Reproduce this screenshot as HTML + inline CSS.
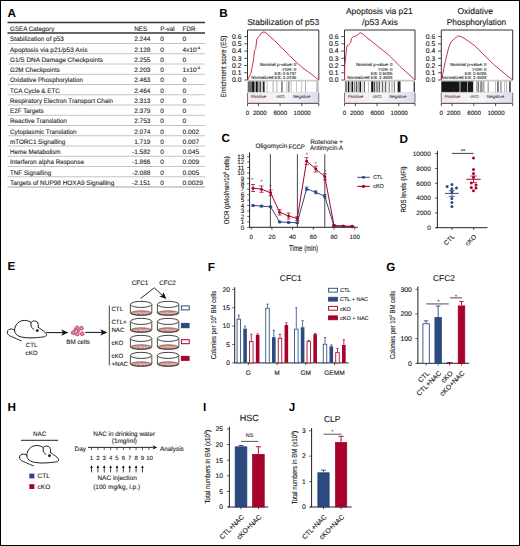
<!DOCTYPE html>
<html><head><meta charset="utf-8"><style>
html,body{margin:0;padding:0;background:#fff;}
body{width:520px;height:546px;overflow:hidden;}
svg{display:block;text-rendering:geometricPrecision;font-family:"Liberation Sans", sans-serif;}

</style></head><body>
<svg width="520" height="546" viewBox="0 0 520 546">
<rect x="0" y="0" width="520" height="546" fill="#fff"/>
<text x="7.6" y="17" font-size="11.7" font-weight="bold" fill="#000">A</text>
<line x1="7.5" y1="22.5" x2="205" y2="22.5" stroke="#333" stroke-width="1.6"/>
<line x1="7.5" y1="33.0" x2="205" y2="33.0" stroke="#333" stroke-width="1.4"/>
<text x="10" y="31.1" font-size="6.5" textLength="44.28" lengthAdjust="spacingAndGlyphs" fill="#222" stroke="#222" stroke-width="0.1">GSEA Category</text>
<text x="134.2" y="31.1" font-size="6.5" textLength="12.9" lengthAdjust="spacingAndGlyphs" fill="#222" stroke="#222" stroke-width="0.1">NES</text>
<text x="160.3" y="31.1" font-size="6.5" textLength="14.29" lengthAdjust="spacingAndGlyphs" fill="#222" stroke="#222" stroke-width="0.1">P-val</text>
<text x="182.6" y="31.1" font-size="6.5" textLength="12.89" lengthAdjust="spacingAndGlyphs" fill="#222" stroke="#222" stroke-width="0.1">FDR</text>
<text x="10" y="41.45" font-size="6.5" textLength="53.8" lengthAdjust="spacingAndGlyphs" fill="#222" stroke="#222" stroke-width="0.1">Stabilization of p53</text>
<text x="150.4" y="41.45" font-size="6.5" text-anchor="end" textLength="16.26" lengthAdjust="spacingAndGlyphs" fill="#222" stroke="#222" stroke-width="0.1">2.244</text>
<text x="160.3" y="41.45" font-size="6.5" fill="#222" stroke="#222" stroke-width="0.1">0</text>
<text x="182.6" y="41.45" font-size="6.5" textLength="3.69" lengthAdjust="spacingAndGlyphs" fill="#222" stroke="#222" stroke-width="0.1">0</text>
<line x1="7.5" y1="43.5" x2="205" y2="43.5" stroke="#b5b5b5" stroke-width="0.8"/>
<text x="10" y="51.7" font-size="6.5" textLength="77.5" lengthAdjust="spacingAndGlyphs" fill="#222" stroke="#222" stroke-width="0.1">Apoptosis via p21/p53 Axis</text>
<text x="150.4" y="51.7" font-size="6.5" text-anchor="end" textLength="16.26" lengthAdjust="spacingAndGlyphs" fill="#222" stroke="#222" stroke-width="0.1">2.128</text>
<text x="160.3" y="51.7" font-size="6.5" fill="#222" stroke="#222" stroke-width="0.1">0</text>
<text x="182.6" y="51.70" font-size="6.5" fill="#222" stroke="#222" stroke-width="0.1">4x10<tspan font-size="3.8" dy="-2.8">-4</tspan></text>
<line x1="7.5" y1="53.75" x2="205" y2="53.75" stroke="#b5b5b5" stroke-width="0.8"/>
<text x="10" y="61.95" font-size="6.5" textLength="93" lengthAdjust="spacingAndGlyphs" fill="#222" stroke="#222" stroke-width="0.1">G1/S DNA Damage Checkpoints</text>
<text x="150.4" y="61.95" font-size="6.5" text-anchor="end" textLength="16.26" lengthAdjust="spacingAndGlyphs" fill="#222" stroke="#222" stroke-width="0.1">2.255</text>
<text x="160.3" y="61.95" font-size="6.5" fill="#222" stroke="#222" stroke-width="0.1">0</text>
<text x="182.6" y="61.95" font-size="6.5" textLength="3.69" lengthAdjust="spacingAndGlyphs" fill="#222" stroke="#222" stroke-width="0.1">0</text>
<line x1="7.5" y1="64.0" x2="205" y2="64.0" stroke="#b5b5b5" stroke-width="0.8"/>
<text x="10" y="72.2" font-size="6.5" textLength="49.85" lengthAdjust="spacingAndGlyphs" fill="#222" stroke="#222" stroke-width="0.1">G2M Checkpoints</text>
<text x="150.4" y="72.2" font-size="6.5" text-anchor="end" textLength="16.26" lengthAdjust="spacingAndGlyphs" fill="#222" stroke="#222" stroke-width="0.1">2.203</text>
<text x="160.3" y="72.2" font-size="6.5" fill="#222" stroke="#222" stroke-width="0.1">0</text>
<text x="182.6" y="72.20" font-size="6.5" fill="#222" stroke="#222" stroke-width="0.1">1x10<tspan font-size="3.8" dy="-2.8">-4</tspan></text>
<line x1="7.5" y1="74.25" x2="205" y2="74.25" stroke="#b5b5b5" stroke-width="0.8"/>
<text x="10" y="82.45" font-size="6.5" textLength="72.87" lengthAdjust="spacingAndGlyphs" fill="#222" stroke="#222" stroke-width="0.1">Oxidative Phosphorylation</text>
<text x="150.4" y="82.45" font-size="6.5" text-anchor="end" textLength="16.26" lengthAdjust="spacingAndGlyphs" fill="#222" stroke="#222" stroke-width="0.1">2.463</text>
<text x="160.3" y="82.45" font-size="6.5" fill="#222" stroke="#222" stroke-width="0.1">0</text>
<text x="182.6" y="82.45" font-size="6.5" textLength="3.69" lengthAdjust="spacingAndGlyphs" fill="#222" stroke="#222" stroke-width="0.1">0</text>
<line x1="7.5" y1="84.5" x2="205" y2="84.5" stroke="#b5b5b5" stroke-width="0.8"/>
<text x="10" y="92.7" font-size="6.5" textLength="49.84" lengthAdjust="spacingAndGlyphs" fill="#222" stroke="#222" stroke-width="0.1">TCA Cycle &amp; ETC</text>
<text x="150.4" y="92.7" font-size="6.5" text-anchor="end" textLength="16.26" lengthAdjust="spacingAndGlyphs" fill="#222" stroke="#222" stroke-width="0.1">2.464</text>
<text x="160.3" y="92.7" font-size="6.5" fill="#222" stroke="#222" stroke-width="0.1">0</text>
<text x="182.6" y="92.7" font-size="6.5" textLength="3.69" lengthAdjust="spacingAndGlyphs" fill="#222" stroke="#222" stroke-width="0.1">0</text>
<line x1="7.5" y1="94.75" x2="205" y2="94.75" stroke="#b5b5b5" stroke-width="0.8"/>
<text x="10" y="102.95" font-size="6.5" textLength="103" lengthAdjust="spacingAndGlyphs" fill="#222" stroke="#222" stroke-width="0.1">Respiratory Electron Transport Chain</text>
<text x="150.4" y="102.95" font-size="6.5" text-anchor="end" textLength="16.26" lengthAdjust="spacingAndGlyphs" fill="#222" stroke="#222" stroke-width="0.1">2.313</text>
<text x="160.3" y="102.95" font-size="6.5" fill="#222" stroke="#222" stroke-width="0.1">0</text>
<text x="182.6" y="102.95" font-size="6.5" textLength="3.69" lengthAdjust="spacingAndGlyphs" fill="#222" stroke="#222" stroke-width="0.1">0</text>
<line x1="7.5" y1="105.0" x2="205" y2="105.0" stroke="#b5b5b5" stroke-width="0.8"/>
<text x="10" y="113.2" font-size="6.5" textLength="33.7" lengthAdjust="spacingAndGlyphs" fill="#222" stroke="#222" stroke-width="0.1">E2F Targets</text>
<text x="150.4" y="113.2" font-size="6.5" text-anchor="end" textLength="16.26" lengthAdjust="spacingAndGlyphs" fill="#222" stroke="#222" stroke-width="0.1">2.379</text>
<text x="160.3" y="113.2" font-size="6.5" fill="#222" stroke="#222" stroke-width="0.1">0</text>
<text x="182.6" y="113.2" font-size="6.5" textLength="3.69" lengthAdjust="spacingAndGlyphs" fill="#222" stroke="#222" stroke-width="0.1">0</text>
<line x1="7.5" y1="115.25" x2="205" y2="115.25" stroke="#b5b5b5" stroke-width="0.8"/>
<text x="10" y="123.45" font-size="6.5" textLength="56.83" lengthAdjust="spacingAndGlyphs" fill="#222" stroke="#222" stroke-width="0.1">Reactive Translation</text>
<text x="150.4" y="123.45" font-size="6.5" text-anchor="end" textLength="16.26" lengthAdjust="spacingAndGlyphs" fill="#222" stroke="#222" stroke-width="0.1">2.753</text>
<text x="160.3" y="123.45" font-size="6.5" fill="#222" stroke="#222" stroke-width="0.1">0</text>
<text x="182.6" y="123.45" font-size="6.5" textLength="3.69" lengthAdjust="spacingAndGlyphs" fill="#222" stroke="#222" stroke-width="0.1">0</text>
<line x1="7.5" y1="125.5" x2="205" y2="125.5" stroke="#b5b5b5" stroke-width="0.8"/>
<text x="10" y="133.7" font-size="6.5" textLength="66.58" lengthAdjust="spacingAndGlyphs" fill="#222" stroke="#222" stroke-width="0.1">Cytoplasmic Translation</text>
<text x="150.4" y="133.7" font-size="6.5" text-anchor="end" textLength="16.26" lengthAdjust="spacingAndGlyphs" fill="#222" stroke="#222" stroke-width="0.1">2.074</text>
<text x="160.3" y="133.7" font-size="6.5" fill="#222" stroke="#222" stroke-width="0.1">0</text>
<text x="182.6" y="133.7" font-size="6.5" textLength="16.59" lengthAdjust="spacingAndGlyphs" fill="#222" stroke="#222" stroke-width="0.1">0.002</text>
<line x1="7.5" y1="135.75" x2="205" y2="135.75" stroke="#b5b5b5" stroke-width="0.8"/>
<text x="10" y="143.95" font-size="6.5" textLength="55.31" lengthAdjust="spacingAndGlyphs" fill="#222" stroke="#222" stroke-width="0.1">mTORC1 Signalling</text>
<text x="150.4" y="143.95" font-size="6.5" text-anchor="end" textLength="16.26" lengthAdjust="spacingAndGlyphs" fill="#222" stroke="#222" stroke-width="0.1">1.719</text>
<text x="160.3" y="143.95" font-size="6.5" fill="#222" stroke="#222" stroke-width="0.1">0</text>
<text x="182.6" y="143.95" font-size="6.5" textLength="16.59" lengthAdjust="spacingAndGlyphs" fill="#222" stroke="#222" stroke-width="0.1">0.007</text>
<line x1="7.5" y1="146.0" x2="205" y2="146.0" stroke="#b5b5b5" stroke-width="0.8"/>
<text x="10" y="154.2" font-size="6.5" textLength="50.54" lengthAdjust="spacingAndGlyphs" fill="#222" stroke="#222" stroke-width="0.1">Heme Metabolism</text>
<text x="150.4" y="154.2" font-size="6.5" text-anchor="end" textLength="18.43" lengthAdjust="spacingAndGlyphs" fill="#222" stroke="#222" stroke-width="0.1">-1.582</text>
<text x="160.3" y="154.2" font-size="6.5" fill="#222" stroke="#222" stroke-width="0.1">0</text>
<text x="182.6" y="154.2" font-size="6.5" textLength="16.59" lengthAdjust="spacingAndGlyphs" fill="#222" stroke="#222" stroke-width="0.1">0.045</text>
<line x1="7.5" y1="156.25" x2="205" y2="156.25" stroke="#b5b5b5" stroke-width="0.8"/>
<text x="10" y="164.45" font-size="6.5" textLength="73.92" lengthAdjust="spacingAndGlyphs" fill="#222" stroke="#222" stroke-width="0.1">Interferon alpha Response</text>
<text x="150.4" y="164.45" font-size="6.5" text-anchor="end" textLength="18.43" lengthAdjust="spacingAndGlyphs" fill="#222" stroke="#222" stroke-width="0.1">-1.866</text>
<text x="160.3" y="164.45" font-size="6.5" fill="#222" stroke="#222" stroke-width="0.1">0</text>
<text x="182.6" y="164.45" font-size="6.5" textLength="16.59" lengthAdjust="spacingAndGlyphs" fill="#222" stroke="#222" stroke-width="0.1">0.009</text>
<line x1="7.5" y1="166.5" x2="205" y2="166.5" stroke="#b5b5b5" stroke-width="0.8"/>
<text x="10" y="174.7" font-size="6.5" textLength="41.13" lengthAdjust="spacingAndGlyphs" fill="#222" stroke="#222" stroke-width="0.1">TNF Signalling</text>
<text x="150.4" y="174.7" font-size="6.5" text-anchor="end" textLength="18.43" lengthAdjust="spacingAndGlyphs" fill="#222" stroke="#222" stroke-width="0.1">-2.088</text>
<text x="160.3" y="174.7" font-size="6.5" fill="#222" stroke="#222" stroke-width="0.1">0</text>
<text x="182.6" y="174.7" font-size="6.5" textLength="16.59" lengthAdjust="spacingAndGlyphs" fill="#222" stroke="#222" stroke-width="0.1">0.005</text>
<line x1="7.5" y1="176.75" x2="205" y2="176.75" stroke="#b5b5b5" stroke-width="0.8"/>
<text x="10" y="184.95" font-size="6.5" textLength="104.3" lengthAdjust="spacingAndGlyphs" fill="#222" stroke="#222" stroke-width="0.1">Targets of NUP98 HOXA9 Signalling</text>
<text x="150.4" y="184.95" font-size="6.5" text-anchor="end" textLength="18.43" lengthAdjust="spacingAndGlyphs" fill="#222" stroke="#222" stroke-width="0.1">-2.151</text>
<text x="160.3" y="184.95" font-size="6.5" fill="#222" stroke="#222" stroke-width="0.1">0</text>
<text x="182.6" y="184.95" font-size="6.5" textLength="20.28" lengthAdjust="spacingAndGlyphs" fill="#222" stroke="#222" stroke-width="0.1">0.0029</text>
<line x1="7.5" y1="187.0" x2="205" y2="187.0" stroke="#999" stroke-width="0.9"/>
<text x="219.3" y="16.8" font-size="11.7" font-weight="bold" fill="#000">B</text>
<line x1="244.3" y1="80.0" x2="247.5" y2="80.0" stroke="#222" stroke-width="0.8"/>
<text x="241.5" y="82.4" font-size="6.8" text-anchor="end" fill="#111" stroke="#111" stroke-width="0.1">0.0</text>
<line x1="244.3" y1="72.77" x2="247.5" y2="72.77" stroke="#222" stroke-width="0.8"/>
<text x="241.5" y="75.17" font-size="6.8" text-anchor="end" fill="#111" stroke="#111" stroke-width="0.1">0.1</text>
<line x1="244.3" y1="65.53" x2="247.5" y2="65.53" stroke="#222" stroke-width="0.8"/>
<text x="241.5" y="67.93" font-size="6.8" text-anchor="end" fill="#111" stroke="#111" stroke-width="0.1">0.2</text>
<line x1="244.3" y1="58.3" x2="247.5" y2="58.3" stroke="#222" stroke-width="0.8"/>
<text x="241.5" y="60.7" font-size="6.8" text-anchor="end" fill="#111" stroke="#111" stroke-width="0.1">0.3</text>
<line x1="244.3" y1="51.07" x2="247.5" y2="51.07" stroke="#222" stroke-width="0.8"/>
<text x="241.5" y="53.47" font-size="6.8" text-anchor="end" fill="#111" stroke="#111" stroke-width="0.1">0.4</text>
<line x1="244.3" y1="43.84" x2="247.5" y2="43.84" stroke="#222" stroke-width="0.8"/>
<text x="241.5" y="46.23" font-size="6.8" text-anchor="end" fill="#111" stroke="#111" stroke-width="0.1">0.5</text>
<line x1="244.3" y1="36.6" x2="247.5" y2="36.6" stroke="#222" stroke-width="0.8"/>
<text x="241.5" y="39.0" font-size="6.8" text-anchor="end" fill="#111" stroke="#111" stroke-width="0.1">0.6</text>
<rect x="247.5" y="81.2" width="71.30000000000001" height="11.099999999999994" fill="#fff" stroke="none" stroke-width="1"/>
<rect x="247.7" y="81.2" width="4.4" height="11.099999999999994" fill="#6a6a6a" stroke="none" stroke-width="1"/>
<rect x="252.1" y="81.2" width="2.4" height="11.099999999999994" fill="#111" stroke="none" stroke-width="1"/>
<rect x="254.5" y="81.2" width="1.3" height="11.099999999999994" fill="#888" stroke="none" stroke-width="1"/>
<rect x="256" y="81.2" width="1.8" height="11.099999999999994" fill="#111" stroke="none" stroke-width="1"/>
<rect x="258.2" y="81.2" width="1" height="11.099999999999994" fill="#999" stroke="none" stroke-width="1"/>
<rect x="259.5" y="81.2" width="1.4" height="11.099999999999994" fill="#333" stroke="none" stroke-width="1"/>
<rect x="261.5" y="81.2" width="1" height="11.099999999999994" fill="#aaa" stroke="none" stroke-width="1"/>
<rect x="262.9" y="81.2" width="1.7" height="11.099999999999994" fill="#222" stroke="none" stroke-width="1"/>
<rect x="266.6" y="81.2" width="1" height="11.099999999999994" fill="#bbb" stroke="none" stroke-width="1"/>
<rect x="272.6" y="81.2" width="1" height="11.099999999999994" fill="#aaa" stroke="none" stroke-width="1"/>
<rect x="276.5" y="81.2" width="0.8" height="11.099999999999994" fill="#999" stroke="none" stroke-width="1"/>
<rect x="281.5" y="81.2" width="0.9" height="11.099999999999994" fill="#222" stroke="none" stroke-width="1"/>
<rect x="286.5" y="81.2" width="0.8" height="11.099999999999994" fill="#aaa" stroke="none" stroke-width="1"/>
<rect x="288.5" y="81.2" width="0.8" height="11.099999999999994" fill="#333" stroke="none" stroke-width="1"/>
<rect x="290.8" y="81.2" width="0.6" height="11.099999999999994" fill="#999" stroke="none" stroke-width="1"/>
<rect x="296" y="81.2" width="0.8" height="11.099999999999994" fill="#bbb" stroke="none" stroke-width="1"/>
<rect x="301.4" y="81.2" width="0.7" height="11.099999999999994" fill="#aaa" stroke="none" stroke-width="1"/>
<rect x="305" y="81.2" width="0.8" height="11.099999999999994" fill="#999" stroke="none" stroke-width="1"/>
<rect x="316.3" y="81.2" width="2.4" height="11.099999999999994" fill="#bbb" stroke="none" stroke-width="1"/>
<line x1="247.5" y1="81.2" x2="318.8" y2="81.2" stroke="#bbb" stroke-width="0.5"/>
<line x1="247.5" y1="92.3" x2="318.8" y2="92.3" stroke="#bbb" stroke-width="0.5"/>
<defs><linearGradient id="g247" x1="0" x2="1" y1="0" y2="0"><stop offset="0" stop-color="#f6e4e8"/><stop offset="0.5" stop-color="#f8f7fa"/><stop offset="1" stop-color="#dcdcf0"/></linearGradient></defs>
<rect x="247.5" y="92.8" width="71.30000000000001" height="9.799999999999997" fill="url(#g247)" stroke="none" stroke-width="1"/>
<line x1="247.5" y1="92.8" x2="247.5" y2="102.6" stroke="#555" stroke-width="0.8"/>
<line x1="318.8" y1="92.8" x2="318.8" y2="102.6" stroke="#555" stroke-width="0.8"/>
<text x="250.9" y="98.0" font-size="4.4" fill="#444" stroke="#444" stroke-width="0.1">Positive</text>
<text x="280.51" y="98.0" font-size="4.4" text-anchor="middle" fill="#444" stroke="#444" stroke-width="0.1">cKO</text>
<text x="310.24" y="98.0" font-size="4.4" text-anchor="end" fill="#444" stroke="#444" stroke-width="0.1">Negative</text>
<path d="M247.5,80.0 L247.5,30 L318.8,30 L318.8,80.0" fill="none" stroke="#333" stroke-width="1"/>
<line x1="247.5" y1="80.3" x2="318.8" y2="80.3" stroke="#999" stroke-width="0.6"/>
<line x1="247.5" y1="103.3" x2="318.8" y2="103.3" stroke="#222" stroke-width="0.9"/>
<line x1="247.5" y1="103.3" x2="247.5" y2="106.1" stroke="#222" stroke-width="0.8"/>
<line x1="258.36" y1="103.3" x2="258.36" y2="106.1" stroke="#222" stroke-width="0.8"/>
<line x1="280.08" y1="103.3" x2="280.08" y2="106.1" stroke="#222" stroke-width="0.8"/>
<line x1="301.8" y1="103.3" x2="301.8" y2="106.1" stroke="#222" stroke-width="0.8"/>
<line x1="318.8" y1="103.3" x2="318.8" y2="106.1" stroke="#222" stroke-width="0.8"/>
<text x="247.5" y="115.1" font-size="6.2" text-anchor="middle" fill="#111" stroke="#111" stroke-width="0.1">0</text>
<text x="259.8" y="115.1" font-size="6.2" text-anchor="middle" fill="#111" stroke="#111" stroke-width="0.1">2000</text>
<text x="280.3" y="115.1" font-size="6.2" text-anchor="middle" fill="#111" stroke="#111" stroke-width="0.1">6000</text>
<text x="302.2" y="115.1" font-size="6.2" text-anchor="middle" fill="#111" stroke="#111" stroke-width="0.1">10000</text>
<polyline points="247.60,80.00 250.90,73.20 253.10,62.10 254.60,50.20 255.70,48.70 256.90,39.10 258.30,37.20 259.80,35.40 261.00,33.20 262.80,32.10 265.00,32.10 274.60,40.60 289.40,55.40 296.90,62.80 302.80,68.00 310.20,73.20 318.60,80.00" fill="none" stroke="#c8335a" stroke-width="1.0" stroke-linejoin="round"/>
<text x="296.3" y="66.3" font-size="4.4" text-anchor="end" fill="#222" stroke="#222" stroke-width="0.1">Nominal p-value: 0</text>
<text x="296.3" y="70.65" font-size="4.4" text-anchor="end" fill="#222" stroke="#222" stroke-width="0.1">FDR: 0</text>
<text x="296.3" y="75.0" font-size="4.4" text-anchor="end" fill="#222" stroke="#222" stroke-width="0.1">ES: 0.6737</text>
<text x="296.3" y="79.35" font-size="4.4" text-anchor="end" fill="#222" stroke="#222" stroke-width="0.1">Normalized ES: 2.2446</text>
<text x="283.2" y="24.6" font-size="8.6" text-anchor="middle" textLength="72" lengthAdjust="spacingAndGlyphs" fill="#111" stroke="#111" stroke-width="0.1">Stabilization of p53</text>
<line x1="341.3" y1="80.0" x2="344.5" y2="80.0" stroke="#222" stroke-width="0.8"/>
<text x="338.5" y="82.4" font-size="6.8" text-anchor="end" fill="#111" stroke="#111" stroke-width="0.1">0.0</text>
<line x1="341.3" y1="72.77" x2="344.5" y2="72.77" stroke="#222" stroke-width="0.8"/>
<text x="338.5" y="75.17" font-size="6.8" text-anchor="end" fill="#111" stroke="#111" stroke-width="0.1">0.1</text>
<line x1="341.3" y1="65.53" x2="344.5" y2="65.53" stroke="#222" stroke-width="0.8"/>
<text x="338.5" y="67.93" font-size="6.8" text-anchor="end" fill="#111" stroke="#111" stroke-width="0.1">0.2</text>
<line x1="341.3" y1="58.3" x2="344.5" y2="58.3" stroke="#222" stroke-width="0.8"/>
<text x="338.5" y="60.7" font-size="6.8" text-anchor="end" fill="#111" stroke="#111" stroke-width="0.1">0.3</text>
<line x1="341.3" y1="51.07" x2="344.5" y2="51.07" stroke="#222" stroke-width="0.8"/>
<text x="338.5" y="53.47" font-size="6.8" text-anchor="end" fill="#111" stroke="#111" stroke-width="0.1">0.4</text>
<line x1="341.3" y1="43.84" x2="344.5" y2="43.84" stroke="#222" stroke-width="0.8"/>
<text x="338.5" y="46.23" font-size="6.8" text-anchor="end" fill="#111" stroke="#111" stroke-width="0.1">0.5</text>
<line x1="341.3" y1="36.6" x2="344.5" y2="36.6" stroke="#222" stroke-width="0.8"/>
<text x="338.5" y="39.0" font-size="6.8" text-anchor="end" fill="#111" stroke="#111" stroke-width="0.1">0.6</text>
<rect x="344.5" y="81.2" width="70.5" height="11.099999999999994" fill="#fff" stroke="none" stroke-width="1"/>
<rect x="344.9" y="81.2" width="2.2" height="11.099999999999994" fill="#888" stroke="none" stroke-width="1"/>
<rect x="347.8" y="81.2" width="1.5" height="11.099999999999994" fill="#111" stroke="none" stroke-width="1"/>
<rect x="349.6" y="81.2" width="1" height="11.099999999999994" fill="#999" stroke="none" stroke-width="1"/>
<rect x="351.5" y="81.2" width="1.5" height="11.099999999999994" fill="#111" stroke="none" stroke-width="1"/>
<rect x="353.7" y="81.2" width="1.5" height="11.099999999999994" fill="#888" stroke="none" stroke-width="1"/>
<rect x="355.9" y="81.2" width="0.8" height="11.099999999999994" fill="#111" stroke="none" stroke-width="1"/>
<rect x="357.4" y="81.2" width="1.4" height="11.099999999999994" fill="#999" stroke="none" stroke-width="1"/>
<rect x="359.5" y="81.2" width="1.5" height="11.099999999999994" fill="#111" stroke="none" stroke-width="1"/>
<rect x="361.7" y="81.2" width="0.8" height="11.099999999999994" fill="#aaa" stroke="none" stroke-width="1"/>
<rect x="363.9" y="81.2" width="0.8" height="11.099999999999994" fill="#222" stroke="none" stroke-width="1"/>
<rect x="368.3" y="81.2" width="0.7" height="11.099999999999994" fill="#aaa" stroke="none" stroke-width="1"/>
<rect x="371.2" y="81.2" width="2.2" height="11.099999999999994" fill="#111" stroke="none" stroke-width="1"/>
<rect x="374.2" y="81.2" width="0.8" height="11.099999999999994" fill="#222" stroke="none" stroke-width="1"/>
<rect x="375.6" y="81.2" width="3" height="11.099999999999994" fill="#999" stroke="none" stroke-width="1"/>
<rect x="379.3" y="81.2" width="0.7" height="11.099999999999994" fill="#222" stroke="none" stroke-width="1"/>
<rect x="380.8" y="81.2" width="0.6" height="11.099999999999994" fill="#aaa" stroke="none" stroke-width="1"/>
<rect x="382.2" y="81.2" width="0.7" height="11.099999999999994" fill="#222" stroke="none" stroke-width="1"/>
<rect x="383.7" y="81.2" width="0.6" height="11.099999999999994" fill="#999" stroke="none" stroke-width="1"/>
<rect x="385.1" y="81.2" width="0.7" height="11.099999999999994" fill="#222" stroke="none" stroke-width="1"/>
<rect x="386.6" y="81.2" width="0.6" height="11.099999999999994" fill="#aaa" stroke="none" stroke-width="1"/>
<rect x="388.8" y="81.2" width="0.7" height="11.099999999999994" fill="#333" stroke="none" stroke-width="1"/>
<rect x="391" y="81.2" width="0.6" height="11.099999999999994" fill="#aaa" stroke="none" stroke-width="1"/>
<rect x="392.5" y="81.2" width="0.6" height="11.099999999999994" fill="#aaa" stroke="none" stroke-width="1"/>
<rect x="393.9" y="81.2" width="0.7" height="11.099999999999994" fill="#333" stroke="none" stroke-width="1"/>
<rect x="397.6" y="81.2" width="2.9" height="11.099999999999994" fill="#222" stroke="none" stroke-width="1"/>
<rect x="413.6" y="81.2" width="1.3" height="11.099999999999994" fill="#333" stroke="none" stroke-width="1"/>
<line x1="344.5" y1="81.2" x2="415" y2="81.2" stroke="#bbb" stroke-width="0.5"/>
<line x1="344.5" y1="92.3" x2="415" y2="92.3" stroke="#bbb" stroke-width="0.5"/>
<defs><linearGradient id="g344" x1="0" x2="1" y1="0" y2="0"><stop offset="0" stop-color="#f6e4e8"/><stop offset="0.5" stop-color="#f8f7fa"/><stop offset="1" stop-color="#dcdcf0"/></linearGradient></defs>
<rect x="344.5" y="92.8" width="70.5" height="9.799999999999997" fill="url(#g344)" stroke="none" stroke-width="1"/>
<line x1="344.5" y1="92.8" x2="344.5" y2="102.6" stroke="#555" stroke-width="0.8"/>
<line x1="415" y1="92.8" x2="415" y2="102.6" stroke="#555" stroke-width="0.8"/>
<text x="347.9" y="98.0" font-size="4.4" fill="#444" stroke="#444" stroke-width="0.1">Positive</text>
<text x="377.14" y="98.0" font-size="4.4" text-anchor="middle" fill="#444" stroke="#444" stroke-width="0.1">cKO</text>
<text x="406.54" y="98.0" font-size="4.4" text-anchor="end" fill="#444" stroke="#444" stroke-width="0.1">Negative</text>
<path d="M344.5,80.0 L344.5,30 L415,30 L415,80.0" fill="none" stroke="#333" stroke-width="1"/>
<line x1="344.5" y1="80.3" x2="415" y2="80.3" stroke="#999" stroke-width="0.6"/>
<line x1="344.5" y1="103.3" x2="415" y2="103.3" stroke="#222" stroke-width="0.9"/>
<line x1="344.5" y1="103.3" x2="344.5" y2="106.1" stroke="#222" stroke-width="0.8"/>
<line x1="355.36" y1="103.3" x2="355.36" y2="106.1" stroke="#222" stroke-width="0.8"/>
<line x1="377.08" y1="103.3" x2="377.08" y2="106.1" stroke="#222" stroke-width="0.8"/>
<line x1="398.8" y1="103.3" x2="398.8" y2="106.1" stroke="#222" stroke-width="0.8"/>
<line x1="415" y1="103.3" x2="415" y2="106.1" stroke="#222" stroke-width="0.8"/>
<text x="344.5" y="115.1" font-size="6.2" text-anchor="middle" fill="#111" stroke="#111" stroke-width="0.1">0</text>
<text x="356.8" y="115.1" font-size="6.2" text-anchor="middle" fill="#111" stroke="#111" stroke-width="0.1">2000</text>
<text x="377.3" y="115.1" font-size="6.2" text-anchor="middle" fill="#111" stroke="#111" stroke-width="0.1">6000</text>
<text x="399.2" y="115.1" font-size="6.2" text-anchor="middle" fill="#111" stroke="#111" stroke-width="0.1">10000</text>
<polyline points="344.60,80.00 344.80,65.80 346.20,52.00 347.00,45.70 348.60,44.90 350.50,43.00 351.60,38.20 353.40,36.60 355.50,36.10 357.70,35.00 359.80,32.60 362.00,33.50 377.20,45.80 388.60,54.90 400.00,66.40 407.00,72.80 415.00,80.00" fill="none" stroke="#c8335a" stroke-width="1.0" stroke-linejoin="round"/>
<text x="392.5" y="66.3" font-size="4.4" text-anchor="end" fill="#222" stroke="#222" stroke-width="0.1">Nominal p-value: 0</text>
<text x="392.5" y="70.65" font-size="4.4" text-anchor="end" fill="#222" stroke="#222" stroke-width="0.1">FDR: 0</text>
<text x="392.5" y="75.0" font-size="4.4" text-anchor="end" fill="#222" stroke="#222" stroke-width="0.1">ES: 0.6026</text>
<text x="392.5" y="79.35" font-size="4.4" text-anchor="end" fill="#222" stroke="#222" stroke-width="0.1">Normalized ES: 2.4633</text>
<text x="379.3" y="14.2" font-size="8.5" text-anchor="middle" textLength="66.8" lengthAdjust="spacingAndGlyphs" fill="#111" stroke="#111" stroke-width="0.1">Apoptosis via p21</text>
<text x="380" y="25.4" font-size="8.5" text-anchor="middle" textLength="36" lengthAdjust="spacingAndGlyphs" fill="#111" stroke="#111" stroke-width="0.1">/p53 Axis</text>
<line x1="438.1" y1="80.0" x2="441.3" y2="80.0" stroke="#222" stroke-width="0.8"/>
<text x="435.3" y="82.4" font-size="6.8" text-anchor="end" fill="#111" stroke="#111" stroke-width="0.1">0.0</text>
<line x1="438.1" y1="72.77" x2="441.3" y2="72.77" stroke="#222" stroke-width="0.8"/>
<text x="435.3" y="75.17" font-size="6.8" text-anchor="end" fill="#111" stroke="#111" stroke-width="0.1">0.1</text>
<line x1="438.1" y1="65.53" x2="441.3" y2="65.53" stroke="#222" stroke-width="0.8"/>
<text x="435.3" y="67.93" font-size="6.8" text-anchor="end" fill="#111" stroke="#111" stroke-width="0.1">0.2</text>
<line x1="438.1" y1="58.3" x2="441.3" y2="58.3" stroke="#222" stroke-width="0.8"/>
<text x="435.3" y="60.7" font-size="6.8" text-anchor="end" fill="#111" stroke="#111" stroke-width="0.1">0.3</text>
<line x1="438.1" y1="51.07" x2="441.3" y2="51.07" stroke="#222" stroke-width="0.8"/>
<text x="435.3" y="53.47" font-size="6.8" text-anchor="end" fill="#111" stroke="#111" stroke-width="0.1">0.4</text>
<line x1="438.1" y1="43.84" x2="441.3" y2="43.84" stroke="#222" stroke-width="0.8"/>
<text x="435.3" y="46.23" font-size="6.8" text-anchor="end" fill="#111" stroke="#111" stroke-width="0.1">0.5</text>
<line x1="438.1" y1="36.6" x2="441.3" y2="36.6" stroke="#222" stroke-width="0.8"/>
<text x="435.3" y="39.0" font-size="6.8" text-anchor="end" fill="#111" stroke="#111" stroke-width="0.1">0.6</text>
<rect x="441.3" y="81.2" width="71.40000000000003" height="11.099999999999994" fill="#fff" stroke="none" stroke-width="1"/>
<rect x="441.3" y="81.2" width="17.7" height="11.099999999999994" fill="#151515" stroke="none" stroke-width="1"/>
<rect x="459" y="81.2" width="1.5" height="11.099999999999994" fill="#777" stroke="none" stroke-width="1"/>
<rect x="460.5" y="81.2" width="6.7" height="11.099999999999994" fill="#181818" stroke="none" stroke-width="1"/>
<rect x="467.2" y="81.2" width="0.8" height="11.099999999999994" fill="#888" stroke="none" stroke-width="1"/>
<rect x="468" y="81.2" width="5.2" height="11.099999999999994" fill="#1a1a1a" stroke="none" stroke-width="1"/>
<rect x="476.2" y="81.2" width="1.5" height="11.099999999999994" fill="#999" stroke="none" stroke-width="1"/>
<rect x="478.3" y="81.2" width="0.8" height="11.099999999999994" fill="#444" stroke="none" stroke-width="1"/>
<rect x="480" y="81.2" width="1.5" height="11.099999999999994" fill="#999" stroke="none" stroke-width="1"/>
<rect x="481.5" y="81.2" width="0.8" height="11.099999999999994" fill="#555" stroke="none" stroke-width="1"/>
<rect x="482.5" y="81.2" width="2" height="11.099999999999994" fill="#aaa" stroke="none" stroke-width="1"/>
<rect x="487.5" y="81.2" width="1.5" height="11.099999999999994" fill="#aaa" stroke="none" stroke-width="1"/>
<rect x="495" y="81.2" width="0.7" height="11.099999999999994" fill="#aaa" stroke="none" stroke-width="1"/>
<rect x="497.2" y="81.2" width="1.5" height="11.099999999999994" fill="#555" stroke="none" stroke-width="1"/>
<rect x="500.2" y="81.2" width="1.5" height="11.099999999999994" fill="#999" stroke="none" stroke-width="1"/>
<rect x="504" y="81.2" width="0.7" height="11.099999999999994" fill="#aaa" stroke="none" stroke-width="1"/>
<rect x="506.2" y="81.2" width="0.7" height="11.099999999999994" fill="#999" stroke="none" stroke-width="1"/>
<rect x="509.2" y="81.2" width="1.5" height="11.099999999999994" fill="#333" stroke="none" stroke-width="1"/>
<line x1="441.3" y1="81.2" x2="512.7" y2="81.2" stroke="#bbb" stroke-width="0.5"/>
<line x1="441.3" y1="92.3" x2="512.7" y2="92.3" stroke="#bbb" stroke-width="0.5"/>
<defs><linearGradient id="g441" x1="0" x2="1" y1="0" y2="0"><stop offset="0" stop-color="#f6e4e8"/><stop offset="0.5" stop-color="#f8f7fa"/><stop offset="1" stop-color="#dcdcf0"/></linearGradient></defs>
<rect x="441.3" y="92.8" width="71.40000000000003" height="9.799999999999997" fill="url(#g441)" stroke="none" stroke-width="1"/>
<line x1="441.3" y1="92.8" x2="441.3" y2="102.6" stroke="#555" stroke-width="0.8"/>
<line x1="512.7" y1="92.8" x2="512.7" y2="102.6" stroke="#555" stroke-width="0.8"/>
<text x="444.7" y="98.0" font-size="4.4" fill="#444" stroke="#444" stroke-width="0.1">Positive</text>
<text x="474.36" y="98.0" font-size="4.4" text-anchor="middle" fill="#444" stroke="#444" stroke-width="0.1">cKO</text>
<text x="504.13" y="98.0" font-size="4.4" text-anchor="end" fill="#444" stroke="#444" stroke-width="0.1">Negative</text>
<path d="M441.3,80.0 L441.3,30 L512.7,30 L512.7,80.0" fill="none" stroke="#333" stroke-width="1"/>
<line x1="441.3" y1="80.3" x2="512.7" y2="80.3" stroke="#999" stroke-width="0.6"/>
<line x1="441.3" y1="103.3" x2="512.7" y2="103.3" stroke="#222" stroke-width="0.9"/>
<line x1="441.3" y1="103.3" x2="441.3" y2="106.1" stroke="#222" stroke-width="0.8"/>
<line x1="452.16" y1="103.3" x2="452.16" y2="106.1" stroke="#222" stroke-width="0.8"/>
<line x1="473.88" y1="103.3" x2="473.88" y2="106.1" stroke="#222" stroke-width="0.8"/>
<line x1="495.6" y1="103.3" x2="495.6" y2="106.1" stroke="#222" stroke-width="0.8"/>
<line x1="512.7" y1="103.3" x2="512.7" y2="106.1" stroke="#222" stroke-width="0.8"/>
<text x="441.3" y="115.1" font-size="6.2" text-anchor="middle" fill="#111" stroke="#111" stroke-width="0.1">0</text>
<text x="453.6" y="115.1" font-size="6.2" text-anchor="middle" fill="#111" stroke="#111" stroke-width="0.1">2000</text>
<text x="474.1" y="115.1" font-size="6.2" text-anchor="middle" fill="#111" stroke="#111" stroke-width="0.1">6000</text>
<text x="496.0" y="115.1" font-size="6.2" text-anchor="middle" fill="#111" stroke="#111" stroke-width="0.1">10000</text>
<polyline points="441.40,80.00 442.90,73.20 445.20,61.80 448.60,48.00 450.90,41.90 454.30,38.90 457.80,35.90 461.20,36.60 465.80,39.40 474.90,45.80 484.00,54.90 493.20,64.00 500.10,69.80 506.90,75.50 512.70,80.00" fill="none" stroke="#c8335a" stroke-width="1.0" stroke-linejoin="round"/>
<text x="486.5" y="66.3" font-size="4.4" text-anchor="end" fill="#222" stroke="#222" stroke-width="0.1">Nominal p-value: 0</text>
<text x="486.5" y="70.65" font-size="4.4" text-anchor="end" fill="#222" stroke="#222" stroke-width="0.1">FDR: 0</text>
<text x="486.5" y="75.0" font-size="4.4" text-anchor="end" fill="#222" stroke="#222" stroke-width="0.1">ES: 0.6026</text>
<text x="486.5" y="79.35" font-size="4.4" text-anchor="end" fill="#222" stroke="#222" stroke-width="0.1">Normalized ES: 2.4633</text>
<text x="475.2" y="14.2" font-size="8.5" text-anchor="middle" fill="#111" stroke="#111" stroke-width="0.1">Oxidative</text>
<text x="476.5" y="25.4" font-size="8.5" text-anchor="middle" textLength="59.3" lengthAdjust="spacingAndGlyphs" fill="#111" stroke="#111" stroke-width="0.1">Phosphorylation</text>
<text x="226.5" y="66.4" font-size="7.6" text-anchor="middle" transform="rotate(-90 226.5 66.4)" textLength="61.5" lengthAdjust="spacingAndGlyphs" fill="#111" stroke="#111" stroke-width="0.1">Enrichment score (ES)</text>
<text x="221.5" y="142.4" font-size="11.7" font-weight="bold" fill="#000">C</text>
<line x1="249.6" y1="152.5" x2="249.6" y2="227.3" stroke="#222" stroke-width="1"/>
<line x1="249.1" y1="227.3" x2="357.8" y2="227.3" stroke="#222" stroke-width="1"/>
<line x1="247.1" y1="227.3" x2="249.6" y2="227.3" stroke="#222" stroke-width="0.7"/>
<text x="244.2" y="229.5" font-size="6.3" text-anchor="end" fill="#111" stroke="#111" stroke-width="0.1">0</text>
<line x1="247.1" y1="221.86" x2="249.6" y2="221.86" stroke="#222" stroke-width="0.7"/>
<text x="244.2" y="224.06" font-size="6.3" text-anchor="end" fill="#111" stroke="#111" stroke-width="0.1">1</text>
<line x1="247.1" y1="216.42" x2="249.6" y2="216.42" stroke="#222" stroke-width="0.7"/>
<text x="244.2" y="218.62" font-size="6.3" text-anchor="end" fill="#111" stroke="#111" stroke-width="0.1">2</text>
<line x1="247.1" y1="210.98" x2="249.6" y2="210.98" stroke="#222" stroke-width="0.7"/>
<text x="244.2" y="213.18" font-size="6.3" text-anchor="end" fill="#111" stroke="#111" stroke-width="0.1">3</text>
<line x1="247.1" y1="205.54" x2="249.6" y2="205.54" stroke="#222" stroke-width="0.7"/>
<text x="244.2" y="207.74" font-size="6.3" text-anchor="end" fill="#111" stroke="#111" stroke-width="0.1">4</text>
<line x1="247.1" y1="200.1" x2="249.6" y2="200.1" stroke="#222" stroke-width="0.7"/>
<text x="244.2" y="202.3" font-size="6.3" text-anchor="end" fill="#111" stroke="#111" stroke-width="0.1">5</text>
<line x1="247.1" y1="194.66" x2="249.6" y2="194.66" stroke="#222" stroke-width="0.7"/>
<text x="244.2" y="196.86" font-size="6.3" text-anchor="end" fill="#111" stroke="#111" stroke-width="0.1">6</text>
<line x1="247.1" y1="189.22" x2="249.6" y2="189.22" stroke="#222" stroke-width="0.7"/>
<text x="244.2" y="191.42" font-size="6.3" text-anchor="end" fill="#111" stroke="#111" stroke-width="0.1">7</text>
<line x1="247.1" y1="183.78" x2="249.6" y2="183.78" stroke="#222" stroke-width="0.7"/>
<text x="244.2" y="185.98" font-size="6.3" text-anchor="end" fill="#111" stroke="#111" stroke-width="0.1">8</text>
<line x1="247.1" y1="178.34" x2="249.6" y2="178.34" stroke="#222" stroke-width="0.7"/>
<text x="244.2" y="180.54" font-size="6.3" text-anchor="end" fill="#111" stroke="#111" stroke-width="0.1">9</text>
<line x1="247.1" y1="172.9" x2="249.6" y2="172.9" stroke="#222" stroke-width="0.7"/>
<text x="244.2" y="175.1" font-size="6.3" text-anchor="end" fill="#111" stroke="#111" stroke-width="0.1">10</text>
<line x1="247.1" y1="167.46" x2="249.6" y2="167.46" stroke="#222" stroke-width="0.7"/>
<text x="244.2" y="169.66" font-size="6.3" text-anchor="end" fill="#111" stroke="#111" stroke-width="0.1">11</text>
<line x1="247.1" y1="162.02" x2="249.6" y2="162.02" stroke="#222" stroke-width="0.7"/>
<text x="244.2" y="164.22" font-size="6.3" text-anchor="end" fill="#111" stroke="#111" stroke-width="0.1">12</text>
<line x1="247.1" y1="156.58" x2="249.6" y2="156.58" stroke="#222" stroke-width="0.7"/>
<text x="244.2" y="158.78" font-size="6.3" text-anchor="end" fill="#111" stroke="#111" stroke-width="0.1">13</text>
<line x1="251.2" y1="227.3" x2="251.2" y2="229.70000000000002" stroke="#222" stroke-width="0.8"/>
<text x="251.2" y="239.0" font-size="6.2" text-anchor="middle" fill="#222" stroke="#222" stroke-width="0.1">0</text>
<line x1="271.9" y1="227.3" x2="271.9" y2="229.70000000000002" stroke="#222" stroke-width="0.8"/>
<text x="271.9" y="239.0" font-size="6.2" text-anchor="middle" fill="#222" stroke="#222" stroke-width="0.1">20</text>
<line x1="292.6" y1="227.3" x2="292.6" y2="229.70000000000002" stroke="#222" stroke-width="0.8"/>
<text x="292.6" y="239.0" font-size="6.2" text-anchor="middle" fill="#222" stroke="#222" stroke-width="0.1">40</text>
<line x1="313.3" y1="227.3" x2="313.3" y2="229.70000000000002" stroke="#222" stroke-width="0.8"/>
<text x="313.3" y="239.0" font-size="6.2" text-anchor="middle" fill="#222" stroke="#222" stroke-width="0.1">60</text>
<line x1="334.0" y1="227.3" x2="334.0" y2="229.70000000000002" stroke="#222" stroke-width="0.8"/>
<text x="334.0" y="239.0" font-size="6.2" text-anchor="middle" fill="#222" stroke="#222" stroke-width="0.1">80</text>
<line x1="354.7" y1="227.3" x2="354.7" y2="229.70000000000002" stroke="#222" stroke-width="0.8"/>
<text x="354.7" y="239.0" font-size="6.2" text-anchor="middle" fill="#222" stroke="#222" stroke-width="0.1">100</text>
<text x="303.6" y="250.9" font-size="8.3" text-anchor="middle" textLength="29" lengthAdjust="spacingAndGlyphs" fill="#111" stroke="#111" stroke-width="0.1">Time (min)</text>
<line x1="270.4" y1="154.2" x2="270.4" y2="227.3" stroke="#333" stroke-width="0.9"/>
<line x1="297.4" y1="154.2" x2="297.4" y2="227.3" stroke="#333" stroke-width="0.9"/>
<line x1="324.8" y1="154.2" x2="324.8" y2="227.3" stroke="#333" stroke-width="0.9"/>
<text x="271.4" y="148.2" font-size="6.5" text-anchor="middle" textLength="32" lengthAdjust="spacingAndGlyphs" fill="#222" stroke="#222" stroke-width="0.1">Oligomycin</text>
<text x="296.7" y="148.6" font-size="6.6" text-anchor="middle" textLength="16.3" lengthAdjust="spacingAndGlyphs" fill="#222" stroke="#222" stroke-width="0.1">FCCP</text>
<text x="326.6" y="143.5" font-size="6.5" text-anchor="middle" textLength="32.8" lengthAdjust="spacingAndGlyphs" fill="#222" stroke="#222" stroke-width="0.1">Rotenone +</text>
<text x="326.5" y="150.0" font-size="6.5" text-anchor="middle" textLength="33.2" lengthAdjust="spacingAndGlyphs" fill="#222" stroke="#222" stroke-width="0.1">Antimycin A</text>
<text transform="translate(228.6 190.2) rotate(-90)" font-size="7.0" text-anchor="middle" fill="#111" stroke="#111" stroke-width="0.1" textLength="68" lengthAdjust="spacingAndGlyphs">OCR (pMol/min/10<tspan font-size="4.2" dy="-2.8">6</tspan><tspan dy="2.8"> cells)</tspan></text>
<polyline points="253.00,205.50 261.50,206.10 270.60,206.80 279.60,221.90 288.60,222.40 297.30,222.70 306.60,188.80 315.80,192.30 324.80,196.30 334.00,226.20 343.10,226.50 352.20,226.70" fill="none" stroke="#2c4a80" stroke-width="1.0" stroke-linejoin="round"/>
<polyline points="253.00,188.20 261.50,189.20 270.60,192.80 279.60,212.20 288.60,216.10 297.30,218.40 306.60,161.10 315.80,169.00 324.80,176.70 334.00,225.40 343.10,226.00 352.20,226.30" fill="none" stroke="#a6022c" stroke-width="1.0" stroke-linejoin="round"/>
<line x1="253" y1="204.8" x2="253" y2="206.2" stroke="#2c4a80" stroke-width="0.7"/>
<line x1="251.2" y1="204.8" x2="254.8" y2="204.8" stroke="#2c4a80" stroke-width="0.7"/>
<line x1="251.2" y1="206.2" x2="254.8" y2="206.2" stroke="#2c4a80" stroke-width="0.7"/>
<line x1="261.5" y1="205.3" x2="261.5" y2="206.9" stroke="#2c4a80" stroke-width="0.7"/>
<line x1="259.7" y1="205.3" x2="263.3" y2="205.3" stroke="#2c4a80" stroke-width="0.7"/>
<line x1="259.7" y1="206.9" x2="263.3" y2="206.9" stroke="#2c4a80" stroke-width="0.7"/>
<line x1="270.6" y1="206" x2="270.6" y2="207.6" stroke="#2c4a80" stroke-width="0.7"/>
<line x1="268.8" y1="206" x2="272.40000000000003" y2="206" stroke="#2c4a80" stroke-width="0.7"/>
<line x1="268.8" y1="207.6" x2="272.40000000000003" y2="207.6" stroke="#2c4a80" stroke-width="0.7"/>
<line x1="279.6" y1="221.3" x2="279.6" y2="222.5" stroke="#2c4a80" stroke-width="0.7"/>
<line x1="277.8" y1="221.3" x2="281.40000000000003" y2="221.3" stroke="#2c4a80" stroke-width="0.7"/>
<line x1="277.8" y1="222.5" x2="281.40000000000003" y2="222.5" stroke="#2c4a80" stroke-width="0.7"/>
<line x1="288.6" y1="221.8" x2="288.6" y2="223" stroke="#2c4a80" stroke-width="0.7"/>
<line x1="286.8" y1="221.8" x2="290.40000000000003" y2="221.8" stroke="#2c4a80" stroke-width="0.7"/>
<line x1="286.8" y1="223" x2="290.40000000000003" y2="223" stroke="#2c4a80" stroke-width="0.7"/>
<line x1="297.3" y1="222.1" x2="297.3" y2="223.3" stroke="#2c4a80" stroke-width="0.7"/>
<line x1="295.5" y1="222.1" x2="299.1" y2="222.1" stroke="#2c4a80" stroke-width="0.7"/>
<line x1="295.5" y1="223.3" x2="299.1" y2="223.3" stroke="#2c4a80" stroke-width="0.7"/>
<line x1="306.6" y1="187" x2="306.6" y2="190.6" stroke="#2c4a80" stroke-width="0.7"/>
<line x1="304.8" y1="187" x2="308.40000000000003" y2="187" stroke="#2c4a80" stroke-width="0.7"/>
<line x1="304.8" y1="190.6" x2="308.40000000000003" y2="190.6" stroke="#2c4a80" stroke-width="0.7"/>
<line x1="315.8" y1="190.8" x2="315.8" y2="193.8" stroke="#2c4a80" stroke-width="0.7"/>
<line x1="314.0" y1="190.8" x2="317.6" y2="190.8" stroke="#2c4a80" stroke-width="0.7"/>
<line x1="314.0" y1="193.8" x2="317.6" y2="193.8" stroke="#2c4a80" stroke-width="0.7"/>
<line x1="324.8" y1="194.5" x2="324.8" y2="198" stroke="#2c4a80" stroke-width="0.7"/>
<line x1="323.0" y1="194.5" x2="326.6" y2="194.5" stroke="#2c4a80" stroke-width="0.7"/>
<line x1="323.0" y1="198" x2="326.6" y2="198" stroke="#2c4a80" stroke-width="0.7"/>
<line x1="334" y1="225.8" x2="334" y2="226.6" stroke="#2c4a80" stroke-width="0.7"/>
<line x1="332.2" y1="225.8" x2="335.8" y2="225.8" stroke="#2c4a80" stroke-width="0.7"/>
<line x1="332.2" y1="226.6" x2="335.8" y2="226.6" stroke="#2c4a80" stroke-width="0.7"/>
<line x1="343.1" y1="226.1" x2="343.1" y2="226.9" stroke="#2c4a80" stroke-width="0.7"/>
<line x1="341.3" y1="226.1" x2="344.90000000000003" y2="226.1" stroke="#2c4a80" stroke-width="0.7"/>
<line x1="341.3" y1="226.9" x2="344.90000000000003" y2="226.9" stroke="#2c4a80" stroke-width="0.7"/>
<line x1="352.2" y1="226.3" x2="352.2" y2="227.1" stroke="#2c4a80" stroke-width="0.7"/>
<line x1="350.4" y1="226.3" x2="354.0" y2="226.3" stroke="#2c4a80" stroke-width="0.7"/>
<line x1="350.4" y1="227.1" x2="354.0" y2="227.1" stroke="#2c4a80" stroke-width="0.7"/>
<line x1="253" y1="184.5" x2="253" y2="191.5" stroke="#a6022c" stroke-width="0.7"/>
<line x1="251.0" y1="184.5" x2="255.0" y2="184.5" stroke="#a6022c" stroke-width="0.75"/>
<line x1="251.0" y1="191.5" x2="255.0" y2="191.5" stroke="#a6022c" stroke-width="0.75"/>
<line x1="261.5" y1="186" x2="261.5" y2="192.3" stroke="#a6022c" stroke-width="0.7"/>
<line x1="259.5" y1="186" x2="263.5" y2="186" stroke="#a6022c" stroke-width="0.75"/>
<line x1="259.5" y1="192.3" x2="263.5" y2="192.3" stroke="#a6022c" stroke-width="0.75"/>
<line x1="270.6" y1="190" x2="270.6" y2="195.6" stroke="#a6022c" stroke-width="0.7"/>
<line x1="268.6" y1="190" x2="272.6" y2="190" stroke="#a6022c" stroke-width="0.75"/>
<line x1="268.6" y1="195.6" x2="272.6" y2="195.6" stroke="#a6022c" stroke-width="0.75"/>
<line x1="279.6" y1="209.6" x2="279.6" y2="215" stroke="#a6022c" stroke-width="0.7"/>
<line x1="277.6" y1="209.6" x2="281.6" y2="209.6" stroke="#a6022c" stroke-width="0.75"/>
<line x1="277.6" y1="215" x2="281.6" y2="215" stroke="#a6022c" stroke-width="0.75"/>
<line x1="288.6" y1="213" x2="288.6" y2="219" stroke="#a6022c" stroke-width="0.7"/>
<line x1="286.6" y1="213" x2="290.6" y2="213" stroke="#a6022c" stroke-width="0.75"/>
<line x1="286.6" y1="219" x2="290.6" y2="219" stroke="#a6022c" stroke-width="0.75"/>
<line x1="297.3" y1="216.5" x2="297.3" y2="220.5" stroke="#a6022c" stroke-width="0.7"/>
<line x1="295.3" y1="216.5" x2="299.3" y2="216.5" stroke="#a6022c" stroke-width="0.75"/>
<line x1="295.3" y1="220.5" x2="299.3" y2="220.5" stroke="#a6022c" stroke-width="0.75"/>
<line x1="306.6" y1="157.6" x2="306.6" y2="164.6" stroke="#a6022c" stroke-width="0.7"/>
<line x1="304.6" y1="157.6" x2="308.6" y2="157.6" stroke="#a6022c" stroke-width="0.75"/>
<line x1="304.6" y1="164.6" x2="308.6" y2="164.6" stroke="#a6022c" stroke-width="0.75"/>
<line x1="315.8" y1="166.2" x2="315.8" y2="172" stroke="#a6022c" stroke-width="0.7"/>
<line x1="313.8" y1="166.2" x2="317.8" y2="166.2" stroke="#a6022c" stroke-width="0.75"/>
<line x1="313.8" y1="172" x2="317.8" y2="172" stroke="#a6022c" stroke-width="0.75"/>
<line x1="324.8" y1="173.7" x2="324.8" y2="179.8" stroke="#a6022c" stroke-width="0.7"/>
<line x1="322.8" y1="173.7" x2="326.8" y2="173.7" stroke="#a6022c" stroke-width="0.75"/>
<line x1="322.8" y1="179.8" x2="326.8" y2="179.8" stroke="#a6022c" stroke-width="0.75"/>
<line x1="334" y1="224.8" x2="334" y2="226" stroke="#a6022c" stroke-width="0.7"/>
<line x1="332.0" y1="224.8" x2="336.0" y2="224.8" stroke="#a6022c" stroke-width="0.75"/>
<line x1="332.0" y1="226" x2="336.0" y2="226" stroke="#a6022c" stroke-width="0.75"/>
<line x1="343.1" y1="225.5" x2="343.1" y2="226.5" stroke="#a6022c" stroke-width="0.7"/>
<line x1="341.1" y1="225.5" x2="345.1" y2="225.5" stroke="#a6022c" stroke-width="0.75"/>
<line x1="341.1" y1="226.5" x2="345.1" y2="226.5" stroke="#a6022c" stroke-width="0.75"/>
<line x1="352.2" y1="225.8" x2="352.2" y2="226.8" stroke="#a6022c" stroke-width="0.7"/>
<line x1="350.2" y1="225.8" x2="354.2" y2="225.8" stroke="#a6022c" stroke-width="0.75"/>
<line x1="350.2" y1="226.8" x2="354.2" y2="226.8" stroke="#a6022c" stroke-width="0.75"/>
<circle cx="253" cy="205.5" r="1.55" fill="#2c4a80" stroke="none" stroke-width="1"/>
<circle cx="261.5" cy="206.1" r="1.55" fill="#2c4a80" stroke="none" stroke-width="1"/>
<circle cx="270.6" cy="206.8" r="1.55" fill="#2c4a80" stroke="none" stroke-width="1"/>
<circle cx="279.6" cy="221.9" r="1.55" fill="#2c4a80" stroke="none" stroke-width="1"/>
<circle cx="288.6" cy="222.4" r="1.55" fill="#2c4a80" stroke="none" stroke-width="1"/>
<circle cx="297.3" cy="222.7" r="1.55" fill="#2c4a80" stroke="none" stroke-width="1"/>
<circle cx="306.6" cy="188.8" r="1.55" fill="#2c4a80" stroke="none" stroke-width="1"/>
<circle cx="315.8" cy="192.3" r="1.55" fill="#2c4a80" stroke="none" stroke-width="1"/>
<circle cx="324.8" cy="196.3" r="1.55" fill="#2c4a80" stroke="none" stroke-width="1"/>
<circle cx="334" cy="226.2" r="1.55" fill="#2c4a80" stroke="none" stroke-width="1"/>
<circle cx="343.1" cy="226.5" r="1.55" fill="#2c4a80" stroke="none" stroke-width="1"/>
<circle cx="352.2" cy="226.7" r="1.55" fill="#2c4a80" stroke="none" stroke-width="1"/>
<circle cx="253" cy="188.2" r="1.5" fill="#a6022c" stroke="none" stroke-width="1"/>
<circle cx="261.5" cy="189.2" r="1.5" fill="#a6022c" stroke="none" stroke-width="1"/>
<circle cx="270.6" cy="192.8" r="1.5" fill="#a6022c" stroke="none" stroke-width="1"/>
<circle cx="279.6" cy="212.2" r="1.5" fill="#a6022c" stroke="none" stroke-width="1"/>
<circle cx="288.6" cy="216.1" r="1.5" fill="#a6022c" stroke="none" stroke-width="1"/>
<circle cx="297.3" cy="218.4" r="1.5" fill="#a6022c" stroke="none" stroke-width="1"/>
<circle cx="306.6" cy="161.1" r="1.5" fill="#a6022c" stroke="none" stroke-width="1"/>
<circle cx="315.8" cy="169" r="1.5" fill="#a6022c" stroke="none" stroke-width="1"/>
<circle cx="324.8" cy="176.7" r="1.5" fill="#a6022c" stroke="none" stroke-width="1"/>
<circle cx="334" cy="225.4" r="1.5" fill="#a6022c" stroke="none" stroke-width="1"/>
<circle cx="343.1" cy="226.0" r="1.5" fill="#a6022c" stroke="none" stroke-width="1"/>
<circle cx="352.2" cy="226.3" r="1.5" fill="#a6022c" stroke="none" stroke-width="1"/>
<text x="252.2" y="180.8" font-size="4.5" text-anchor="middle" fill="#333" stroke="#333" stroke-width="0.1">*</text>
<text x="261.5" y="183.0" font-size="4.5" text-anchor="middle" fill="#333" stroke="#333" stroke-width="0.1">*</text>
<text x="270.5" y="187.8" font-size="4.5" text-anchor="middle" fill="#333" stroke="#333" stroke-width="0.1">*</text>
<text x="306.9" y="156.4" font-size="4.5" text-anchor="middle" fill="#333" stroke="#333" stroke-width="0.1">*</text>
<text x="315.6" y="164.7" font-size="4.5" text-anchor="middle" fill="#333" stroke="#333" stroke-width="0.1">*</text>
<text x="324.8" y="172.6" font-size="4.5" text-anchor="middle" fill="#333" stroke="#333" stroke-width="0.1">*</text>
<line x1="357.4" y1="177.3" x2="369.8" y2="177.3" stroke="#2c4a80" stroke-width="1.0"/>
<circle cx="363.5" cy="177.3" r="1.55" fill="#2c4a80" stroke="none" stroke-width="1"/>
<line x1="357.4" y1="186.4" x2="369.8" y2="186.4" stroke="#a6022c" stroke-width="1.1"/>
<circle cx="363.5" cy="186.4" r="1.55" fill="#a6022c" stroke="none" stroke-width="1"/>
<text x="373.2" y="179.2" font-size="5.7" textLength="9.5" lengthAdjust="spacingAndGlyphs" fill="#222" stroke="#222" stroke-width="0.1">CTL</text>
<text x="373.2" y="188.4" font-size="5.7" textLength="10.6" lengthAdjust="spacingAndGlyphs" fill="#222" stroke="#222" stroke-width="0.1">cKO</text>
<text x="399.6" y="143.2" font-size="11.7" font-weight="bold" fill="#000">D</text>
<line x1="437.4" y1="150.8" x2="437.4" y2="227.7" stroke="#222" stroke-width="1"/>
<line x1="435.9" y1="227.7" x2="487.5" y2="227.7" stroke="#222" stroke-width="1"/>
<line x1="434.9" y1="227.7" x2="437.4" y2="227.7" stroke="#222" stroke-width="0.7"/>
<text x="430.79999999999995" y="230.0" font-size="6.5" text-anchor="end" fill="#111" stroke="#111" stroke-width="0.1">0</text>
<line x1="434.9" y1="212.88" x2="437.4" y2="212.88" stroke="#222" stroke-width="0.7"/>
<text x="430.79999999999995" y="215.18" font-size="6.5" text-anchor="end" fill="#111" stroke="#111" stroke-width="0.1">2000</text>
<line x1="434.9" y1="198.06" x2="437.4" y2="198.06" stroke="#222" stroke-width="0.7"/>
<text x="430.79999999999995" y="200.36" font-size="6.5" text-anchor="end" fill="#111" stroke="#111" stroke-width="0.1">4000</text>
<line x1="434.9" y1="183.24" x2="437.4" y2="183.24" stroke="#222" stroke-width="0.7"/>
<text x="430.79999999999995" y="185.54" font-size="6.5" text-anchor="end" fill="#111" stroke="#111" stroke-width="0.1">6000</text>
<line x1="434.9" y1="168.42" x2="437.4" y2="168.42" stroke="#222" stroke-width="0.7"/>
<text x="430.79999999999995" y="170.72" font-size="6.5" text-anchor="end" fill="#111" stroke="#111" stroke-width="0.1">8000</text>
<line x1="434.9" y1="153.6" x2="437.4" y2="153.6" stroke="#222" stroke-width="0.7"/>
<text x="430.79999999999995" y="155.9" font-size="6.5" text-anchor="end" fill="#111" stroke="#111" stroke-width="0.1">10000</text>
<line x1="451.9" y1="227.7" x2="451.9" y2="229.89999999999998" stroke="#222" stroke-width="0.8"/>
<line x1="473.7" y1="227.7" x2="473.7" y2="229.89999999999998" stroke="#222" stroke-width="0.8"/>
<line x1="451.9" y1="153.4" x2="473.8" y2="153.4" stroke="#333" stroke-width="0.9"/>
<text x="463" y="153.0" font-size="5.6" text-anchor="middle" fill="#333" stroke="#333" stroke-width="0.1">**</text>
<circle cx="451.9" cy="184.4" r="1.5" fill="#2c4a80" stroke="none" stroke-width="1"/>
<circle cx="447.1" cy="186.6" r="1.5" fill="#2c4a80" stroke="none" stroke-width="1"/>
<circle cx="456.5" cy="187.9" r="1.5" fill="#2c4a80" stroke="none" stroke-width="1"/>
<circle cx="451.9" cy="188.7" r="1.5" fill="#2c4a80" stroke="none" stroke-width="1"/>
<circle cx="451.9" cy="191.8" r="1.5" fill="#2c4a80" stroke="none" stroke-width="1"/>
<circle cx="451.9" cy="198.4" r="1.5" fill="#2c4a80" stroke="none" stroke-width="1"/>
<circle cx="451.9" cy="202.5" r="1.5" fill="#2c4a80" stroke="none" stroke-width="1"/>
<circle cx="451.9" cy="206.6" r="1.5" fill="#2c4a80" stroke="none" stroke-width="1"/>
<circle cx="473.5" cy="158" r="1.5" fill="#a6022c" stroke="none" stroke-width="1"/>
<circle cx="473.5" cy="169.5" r="1.5" fill="#a6022c" stroke="none" stroke-width="1"/>
<circle cx="473.5" cy="173.6" r="1.5" fill="#a6022c" stroke="none" stroke-width="1"/>
<circle cx="473.5" cy="177.2" r="1.5" fill="#a6022c" stroke="none" stroke-width="1"/>
<circle cx="471.3" cy="183" r="1.5" fill="#a6022c" stroke="none" stroke-width="1"/>
<circle cx="476" cy="185" r="1.5" fill="#a6022c" stroke="none" stroke-width="1"/>
<circle cx="471.3" cy="187.4" r="1.5" fill="#a6022c" stroke="none" stroke-width="1"/>
<circle cx="476" cy="188" r="1.5" fill="#a6022c" stroke="none" stroke-width="1"/>
<circle cx="473.5" cy="190.7" r="1.5" fill="#a6022c" stroke="none" stroke-width="1"/>
<line x1="445" y1="193.4" x2="458.7" y2="193.4" stroke="#2c4a80" stroke-width="1.0"/>
<line x1="448.8" y1="190.7" x2="454.8" y2="190.7" stroke="#2c4a80" stroke-width="0.8"/>
<line x1="448.8" y1="196.4" x2="454.8" y2="196.4" stroke="#2c4a80" stroke-width="0.8"/>
<line x1="451.9" y1="190.7" x2="451.9" y2="196.4" stroke="#2c4a80" stroke-width="0.8"/>
<line x1="466.4" y1="179.3" x2="480.7" y2="179.3" stroke="#a6022c" stroke-width="1.0"/>
<line x1="470.3" y1="176" x2="476.8" y2="176" stroke="#a6022c" stroke-width="0.8"/>
<line x1="470.3" y1="182.6" x2="476.8" y2="182.6" stroke="#a6022c" stroke-width="0.8"/>
<line x1="473.5" y1="176" x2="473.5" y2="182.6" stroke="#a6022c" stroke-width="0.8"/>
<text x="406.4" y="189.5" font-size="7.5" text-anchor="middle" transform="rotate(-90 406.4 189.5)" textLength="46.2" lengthAdjust="spacingAndGlyphs" fill="#111" stroke="#111" stroke-width="0.1">ROS levels (MFI)</text>
<text x="455.0" y="237.0" font-size="6.5" text-anchor="end" transform="rotate(-45 455.0 237.0)" fill="#111" stroke="#111" stroke-width="0.1">CTL</text>
<text x="476.8" y="237.2" font-size="6.5" text-anchor="end" transform="rotate(-45 476.8 237.2)" fill="#111" stroke="#111" stroke-width="0.1">cKO</text>
<text x="7.4" y="270.3" font-size="11.7" font-weight="bold" fill="#000">E</text>
<g transform="translate(0 0) scale(1.0)" fill="none" stroke="#111" stroke-width="0.95" stroke-linecap="round" stroke-linejoin="round">
<path d="M31.00,322.50 C30.60,322.27 29.73,321.45 28.60,321.10 C27.47,320.75 25.73,320.30 24.20,320.40 C22.67,320.50 20.83,320.78 19.40,321.70 C17.97,322.62 16.40,324.45 15.60,325.90 C14.80,327.35 14.60,329.12 14.60,330.40 C14.60,331.68 14.95,332.67 15.60,333.60 C16.25,334.53 17.38,335.40 18.50,336.00 C19.62,336.60 20.55,336.88 22.30,337.20 C24.05,337.52 26.60,337.83 29.00,337.90 C31.40,337.97 34.28,337.77 36.70,337.60 C39.12,337.43 41.97,337.17 43.50,336.90 C45.03,336.63 45.40,336.40 45.90,336.00 C46.40,335.60 46.58,335.07 46.50,334.50 C46.42,333.93 46.23,333.40 45.40,332.60 C44.57,331.80 42.70,330.58 41.50,329.70 C40.30,328.82 38.75,327.70 38.20,327.30"/>
<path d="M31.00,322.50 C31.23,322.30 31.77,321.55 32.40,321.30 C33.03,321.05 34.00,320.88 34.80,321.00 C35.60,321.12 36.63,321.43 37.20,322.00 C37.77,322.57 38.03,323.52 38.20,324.40 C38.37,325.28 38.20,326.82 38.20,327.30"/>
<path d="M31.00,323.20 C31.03,323.72 30.97,325.45 31.20,326.30 C31.43,327.15 31.97,327.82 32.40,328.30 C32.83,328.78 33.57,329.05 33.80,329.20"/>
<path d="M14.60,330.40 C14.28,330.20 13.50,329.40 12.70,329.20 C11.90,329.00 10.63,328.95 9.80,329.20 C8.97,329.45 8.10,330.05 7.70,330.70 C7.30,331.35 7.13,332.30 7.40,333.10 C7.67,333.90 8.10,334.70 9.30,335.50 C10.50,336.30 12.60,337.02 14.60,337.90 C16.60,338.78 20.18,340.32 21.30,340.80"/>
<circle cx="37.3" cy="330.6" r="1.4" fill="#111" stroke="none"/>
</g>
<text x="31.6" y="347.0" font-size="6.2" text-anchor="middle" fill="#222" stroke="#222" stroke-width="0.1">CTL</text>
<text x="31.6" y="355.2" font-size="6.2" text-anchor="middle" fill="#222" stroke="#222" stroke-width="0.1">cKO</text>
<line x1="46.4" y1="332.6" x2="64.1" y2="332.6" stroke="#111" stroke-width="1.0"/>
<path d="M68.3,332.6 L61.30,329.50 L62.91,332.6 L61.30,335.70 Z" fill="#111"/>
<circle cx="75" cy="329.8" r="1.8" fill="#c9dcf6" stroke="none" stroke-width="1"/>
<circle cx="78.5" cy="330.8" r="1.85" fill="#c9dcf6" stroke="none" stroke-width="1"/>
<circle cx="77.1" cy="327.8" r="2.4000000000000004" fill="#c9dcf6" stroke="none" stroke-width="1"/>
<circle cx="81.5" cy="328.2" r="2.4000000000000004" fill="#c9dcf6" stroke="none" stroke-width="1"/>
<circle cx="73.2" cy="332.8" r="2.45" fill="#c9dcf6" stroke="none" stroke-width="1"/>
<circle cx="77.3" cy="334" r="2.45" fill="#c9dcf6" stroke="none" stroke-width="1"/>
<circle cx="82.2" cy="333.8" r="2.45" fill="#c9dcf6" stroke="none" stroke-width="1"/>
<circle cx="75" cy="329.8" r="1.25" fill="#de6b84" stroke="#c42a4f" stroke-width="0.5"/>
<circle cx="75" cy="329.8" r="0.4375" fill="#f6d0d8" stroke="none" stroke-width="1"/>
<circle cx="78.5" cy="330.8" r="1.3" fill="#de6b84" stroke="#c42a4f" stroke-width="0.5"/>
<circle cx="78.5" cy="330.8" r="0.45499999999999996" fill="#f6d0d8" stroke="none" stroke-width="1"/>
<circle cx="77.1" cy="327.8" r="1.85" fill="#de6b84" stroke="#c42a4f" stroke-width="0.5"/>
<circle cx="77.1" cy="327.8" r="0.6475" fill="#f6d0d8" stroke="none" stroke-width="1"/>
<circle cx="81.5" cy="328.2" r="1.85" fill="#de6b84" stroke="#c42a4f" stroke-width="0.5"/>
<circle cx="81.5" cy="328.2" r="0.6475" fill="#f6d0d8" stroke="none" stroke-width="1"/>
<circle cx="73.2" cy="332.8" r="1.9" fill="#de6b84" stroke="#c42a4f" stroke-width="0.5"/>
<circle cx="73.2" cy="332.8" r="0.6649999999999999" fill="#f6d0d8" stroke="none" stroke-width="1"/>
<circle cx="77.3" cy="334" r="1.9" fill="#de6b84" stroke="#c42a4f" stroke-width="0.5"/>
<circle cx="77.3" cy="334" r="0.6649999999999999" fill="#f6d0d8" stroke="none" stroke-width="1"/>
<circle cx="82.2" cy="333.8" r="1.9" fill="#de6b84" stroke="#c42a4f" stroke-width="0.5"/>
<circle cx="82.2" cy="333.8" r="0.6649999999999999" fill="#f6d0d8" stroke="none" stroke-width="1"/>
<text x="78.1" y="344.2" font-size="6.3" text-anchor="middle" fill="#222" stroke="#222" stroke-width="0.1">BM cells</text>
<line x1="85.4" y1="332.4" x2="103.2" y2="332.4" stroke="#111" stroke-width="1.0"/>
<path d="M107.4,332.4 L100.40,329.30 L102.01,332.4 L100.40,335.50 Z" fill="#111"/>
<line x1="109.3" y1="305.5" x2="109.3" y2="365.4" stroke="#444" stroke-width="1.0"/>
<text x="111.4" y="311.1" font-size="6.2" fill="#222" stroke="#222" stroke-width="0.1">CTL</text>
<text x="111.4" y="324.3" font-size="6.2" fill="#222" stroke="#222" stroke-width="0.1">CTL+</text>
<text x="111.4" y="331.6" font-size="6.2" fill="#222" stroke="#222" stroke-width="0.1">NAC</text>
<text x="111.4" y="345.4" font-size="6.2" fill="#222" stroke="#222" stroke-width="0.1">cKO</text>
<text x="111.4" y="358.1" font-size="6.2" fill="#222" stroke="#222" stroke-width="0.1">cKO</text>
<text x="111.4" y="365.9" font-size="6.2" fill="#222" stroke="#222" stroke-width="0.1">+NAC</text>
<text x="140.1" y="285.3" font-size="6.4" text-anchor="middle" fill="#222" stroke="#222" stroke-width="0.1">CFC1</text>
<text x="167.6" y="285.3" font-size="6.4" text-anchor="middle" fill="#222" stroke="#222" stroke-width="0.1">CFC2</text>
<path d="M140.5,298.5 L154.35,287.8 L163.4,296.4" fill="none" stroke="#111" stroke-width="0.9"/>
<path d="M166.5,298.9 L159.4,296.6 L162.3,295.5 L163.4,292.3 Z" fill="#111"/>
<ellipse cx="141.10" cy="312.90" rx="10.30" ry="2.15" fill="#df8f7b" stroke="#333" stroke-width="0.55"/>
<circle cx="136.2" cy="313.5" r="0.72" fill="#cfe0fa" stroke="none" stroke-width="1"/>
<circle cx="139.5" cy="312.4" r="0.72" fill="#cfe0fa" stroke="none" stroke-width="1"/>
<circle cx="141.0" cy="313.75" r="0.72" fill="#cfe0fa" stroke="none" stroke-width="1"/>
<circle cx="144.7" cy="313.5" r="0.72" fill="#cfe0fa" stroke="none" stroke-width="1"/>
<circle cx="147.2" cy="312.9" r="0.72" fill="#cfe0fa" stroke="none" stroke-width="1"/>
<circle cx="142.9" cy="313.1" r="0.72" fill="#cfe0fa" stroke="none" stroke-width="1"/>
<path d="M130.4,304.4 L130.4,313.0 A10.7,2.35 0 0 0 151.8,313.0 L151.8,304.4" fill="none" stroke="#222" stroke-width="0.8"/>
<ellipse cx="141.10" cy="304.4" rx="10.7" ry="3.05" fill="#fff" stroke="#222" stroke-width="0.85"/>
<ellipse cx="168.10" cy="312.90" rx="10.30" ry="2.15" fill="#df8f7b" stroke="#333" stroke-width="0.55"/>
<circle cx="163.2" cy="313.5" r="0.72" fill="#cfe0fa" stroke="none" stroke-width="1"/>
<circle cx="166.5" cy="312.4" r="0.72" fill="#cfe0fa" stroke="none" stroke-width="1"/>
<circle cx="168.0" cy="313.75" r="0.72" fill="#cfe0fa" stroke="none" stroke-width="1"/>
<circle cx="171.7" cy="313.5" r="0.72" fill="#cfe0fa" stroke="none" stroke-width="1"/>
<circle cx="174.2" cy="312.9" r="0.72" fill="#cfe0fa" stroke="none" stroke-width="1"/>
<circle cx="169.9" cy="313.1" r="0.72" fill="#cfe0fa" stroke="none" stroke-width="1"/>
<path d="M157.4,304.4 L157.4,313.0 A10.7,2.35 0 0 0 178.8,313.0 L178.8,304.4" fill="none" stroke="#222" stroke-width="0.8"/>
<ellipse cx="168.10" cy="304.4" rx="10.7" ry="3.05" fill="#fff" stroke="#222" stroke-width="0.85"/>
<ellipse cx="141.10" cy="329.90" rx="10.30" ry="2.15" fill="#df8f7b" stroke="#333" stroke-width="0.55"/>
<circle cx="136.2" cy="330.5" r="0.72" fill="#cfe0fa" stroke="none" stroke-width="1"/>
<circle cx="139.5" cy="329.4" r="0.72" fill="#cfe0fa" stroke="none" stroke-width="1"/>
<circle cx="141.0" cy="330.75" r="0.72" fill="#cfe0fa" stroke="none" stroke-width="1"/>
<circle cx="144.7" cy="330.5" r="0.72" fill="#cfe0fa" stroke="none" stroke-width="1"/>
<circle cx="147.2" cy="329.9" r="0.72" fill="#cfe0fa" stroke="none" stroke-width="1"/>
<circle cx="142.9" cy="330.1" r="0.72" fill="#cfe0fa" stroke="none" stroke-width="1"/>
<path d="M130.4,321.4 L130.4,330.0 A10.7,2.35 0 0 0 151.8,330.0 L151.8,321.4" fill="none" stroke="#222" stroke-width="0.8"/>
<ellipse cx="141.10" cy="321.4" rx="10.7" ry="3.05" fill="#fff" stroke="#222" stroke-width="0.85"/>
<ellipse cx="168.10" cy="329.90" rx="10.30" ry="2.15" fill="#df8f7b" stroke="#333" stroke-width="0.55"/>
<circle cx="163.2" cy="330.5" r="0.72" fill="#cfe0fa" stroke="none" stroke-width="1"/>
<circle cx="166.5" cy="329.4" r="0.72" fill="#cfe0fa" stroke="none" stroke-width="1"/>
<circle cx="168.0" cy="330.75" r="0.72" fill="#cfe0fa" stroke="none" stroke-width="1"/>
<circle cx="171.7" cy="330.5" r="0.72" fill="#cfe0fa" stroke="none" stroke-width="1"/>
<circle cx="174.2" cy="329.9" r="0.72" fill="#cfe0fa" stroke="none" stroke-width="1"/>
<circle cx="169.9" cy="330.1" r="0.72" fill="#cfe0fa" stroke="none" stroke-width="1"/>
<path d="M157.4,321.4 L157.4,330.0 A10.7,2.35 0 0 0 178.8,330.0 L178.8,321.4" fill="none" stroke="#222" stroke-width="0.8"/>
<ellipse cx="168.10" cy="321.4" rx="10.7" ry="3.05" fill="#fff" stroke="#222" stroke-width="0.85"/>
<ellipse cx="141.10" cy="346.90" rx="10.30" ry="2.15" fill="#df8f7b" stroke="#333" stroke-width="0.55"/>
<circle cx="136.2" cy="347.5" r="0.72" fill="#cfe0fa" stroke="none" stroke-width="1"/>
<circle cx="139.5" cy="346.4" r="0.72" fill="#cfe0fa" stroke="none" stroke-width="1"/>
<circle cx="141.0" cy="347.75" r="0.72" fill="#cfe0fa" stroke="none" stroke-width="1"/>
<circle cx="144.7" cy="347.5" r="0.72" fill="#cfe0fa" stroke="none" stroke-width="1"/>
<circle cx="147.2" cy="346.9" r="0.72" fill="#cfe0fa" stroke="none" stroke-width="1"/>
<circle cx="142.9" cy="347.1" r="0.72" fill="#cfe0fa" stroke="none" stroke-width="1"/>
<path d="M130.4,338.4 L130.4,347.0 A10.7,2.35 0 0 0 151.8,347.0 L151.8,338.4" fill="none" stroke="#222" stroke-width="0.8"/>
<ellipse cx="141.10" cy="338.4" rx="10.7" ry="3.05" fill="#fff" stroke="#222" stroke-width="0.85"/>
<ellipse cx="168.10" cy="346.90" rx="10.30" ry="2.15" fill="#df8f7b" stroke="#333" stroke-width="0.55"/>
<circle cx="163.2" cy="347.5" r="0.72" fill="#cfe0fa" stroke="none" stroke-width="1"/>
<circle cx="166.5" cy="346.4" r="0.72" fill="#cfe0fa" stroke="none" stroke-width="1"/>
<circle cx="168.0" cy="347.75" r="0.72" fill="#cfe0fa" stroke="none" stroke-width="1"/>
<circle cx="171.7" cy="347.5" r="0.72" fill="#cfe0fa" stroke="none" stroke-width="1"/>
<circle cx="174.2" cy="346.9" r="0.72" fill="#cfe0fa" stroke="none" stroke-width="1"/>
<circle cx="169.9" cy="347.1" r="0.72" fill="#cfe0fa" stroke="none" stroke-width="1"/>
<path d="M157.4,338.4 L157.4,347.0 A10.7,2.35 0 0 0 178.8,347.0 L178.8,338.4" fill="none" stroke="#222" stroke-width="0.8"/>
<ellipse cx="168.10" cy="338.4" rx="10.7" ry="3.05" fill="#fff" stroke="#222" stroke-width="0.85"/>
<ellipse cx="141.10" cy="363.90" rx="10.30" ry="2.15" fill="#df8f7b" stroke="#333" stroke-width="0.55"/>
<circle cx="136.2" cy="364.5" r="0.72" fill="#cfe0fa" stroke="none" stroke-width="1"/>
<circle cx="139.5" cy="363.4" r="0.72" fill="#cfe0fa" stroke="none" stroke-width="1"/>
<circle cx="141.0" cy="364.75" r="0.72" fill="#cfe0fa" stroke="none" stroke-width="1"/>
<circle cx="144.7" cy="364.5" r="0.72" fill="#cfe0fa" stroke="none" stroke-width="1"/>
<circle cx="147.2" cy="363.9" r="0.72" fill="#cfe0fa" stroke="none" stroke-width="1"/>
<circle cx="142.9" cy="364.1" r="0.72" fill="#cfe0fa" stroke="none" stroke-width="1"/>
<path d="M130.4,355.4 L130.4,364.0 A10.7,2.35 0 0 0 151.8,364.0 L151.8,355.4" fill="none" stroke="#222" stroke-width="0.8"/>
<ellipse cx="141.10" cy="355.4" rx="10.7" ry="3.05" fill="#fff" stroke="#222" stroke-width="0.85"/>
<ellipse cx="168.10" cy="363.90" rx="10.30" ry="2.15" fill="#df8f7b" stroke="#333" stroke-width="0.55"/>
<circle cx="163.2" cy="364.5" r="0.72" fill="#cfe0fa" stroke="none" stroke-width="1"/>
<circle cx="166.5" cy="363.4" r="0.72" fill="#cfe0fa" stroke="none" stroke-width="1"/>
<circle cx="168.0" cy="364.75" r="0.72" fill="#cfe0fa" stroke="none" stroke-width="1"/>
<circle cx="171.7" cy="364.5" r="0.72" fill="#cfe0fa" stroke="none" stroke-width="1"/>
<circle cx="174.2" cy="363.9" r="0.72" fill="#cfe0fa" stroke="none" stroke-width="1"/>
<circle cx="169.9" cy="364.1" r="0.72" fill="#cfe0fa" stroke="none" stroke-width="1"/>
<path d="M157.4,355.4 L157.4,364.0 A10.7,2.35 0 0 0 178.8,364.0 L178.8,355.4" fill="none" stroke="#222" stroke-width="0.8"/>
<ellipse cx="168.10" cy="355.4" rx="10.7" ry="3.05" fill="#fff" stroke="#222" stroke-width="0.85"/>
<rect x="181.4" y="305.9" width="7.8" height="4.0" fill="#fff" stroke="#2c4a80" stroke-width="1.0"/>
<rect x="180.9" y="322.9" width="8.7" height="5.3" fill="#2c4a80" stroke="none" stroke-width="1"/>
<rect x="181.4" y="339.7" width="7.8" height="4.0" fill="#fff" stroke="#a6022c" stroke-width="1.0"/>
<rect x="180.9" y="355.9" width="8.7" height="5.0" fill="#a6022c" stroke="none" stroke-width="1"/>
<text x="207.7" y="270.6" font-size="11.7" font-weight="bold" fill="#000">F</text>
<text x="290.8" y="281.0" font-size="8.4" text-anchor="middle" fill="#111" stroke="#111" stroke-width="0.1">CFC1</text>
<line x1="234.7" y1="287.2" x2="234.7" y2="362.9" stroke="#222" stroke-width="1"/>
<line x1="234.2" y1="362.9" x2="348.5" y2="362.9" stroke="#222" stroke-width="1"/>
<line x1="232.2" y1="362.9" x2="234.7" y2="362.9" stroke="#222" stroke-width="0.7"/>
<text x="229.89999999999998" y="365.2" font-size="6.7" text-anchor="end" fill="#111" stroke="#111" stroke-width="0.1">0</text>
<line x1="232.2" y1="344.52" x2="234.7" y2="344.52" stroke="#222" stroke-width="0.7"/>
<text x="229.89999999999998" y="346.82" font-size="6.7" text-anchor="end" fill="#111" stroke="#111" stroke-width="0.1">5</text>
<line x1="232.2" y1="326.15" x2="234.7" y2="326.15" stroke="#222" stroke-width="0.7"/>
<text x="229.89999999999998" y="328.45" font-size="6.7" text-anchor="end" fill="#111" stroke="#111" stroke-width="0.1">10</text>
<line x1="232.2" y1="307.77" x2="234.7" y2="307.77" stroke="#222" stroke-width="0.7"/>
<text x="229.89999999999998" y="310.07" font-size="6.7" text-anchor="end" fill="#111" stroke="#111" stroke-width="0.1">15</text>
<line x1="232.2" y1="289.4" x2="234.7" y2="289.4" stroke="#222" stroke-width="0.7"/>
<text x="229.89999999999998" y="291.7" font-size="6.7" text-anchor="end" fill="#111" stroke="#111" stroke-width="0.1">20</text>
<line x1="248.3" y1="362.9" x2="248.3" y2="365.09999999999997" stroke="#222" stroke-width="0.8"/>
<text x="248.3" y="375.4" font-size="6.6" text-anchor="middle" fill="#222" stroke="#222" stroke-width="0.1">G</text>
<line x1="238.8" y1="315.12" x2="238.8" y2="318.8" stroke="#2c4a80" stroke-width="0.8"/>
<line x1="237.7" y1="315.12" x2="239.9" y2="315.12" stroke="#2c4a80" stroke-width="0.8"/>
<rect x="237.05" y="319.22" width="3.5" height="43.68" fill="#fff" stroke="#2c4a80" stroke-width="0.85"/>
<line x1="245.1" y1="326.15" x2="245.1" y2="328.72" stroke="#2c4a80" stroke-width="0.8"/>
<line x1="244.0" y1="326.15" x2="246.2" y2="326.15" stroke="#2c4a80" stroke-width="0.8"/>
<rect x="243.3" y="328.72" width="3.6" height="34.18" fill="#2c4a80" stroke="none" stroke-width="1"/>
<line x1="251.3" y1="334.23" x2="251.3" y2="341.22" stroke="#a6022c" stroke-width="0.8"/>
<line x1="250.2" y1="334.23" x2="252.4" y2="334.23" stroke="#a6022c" stroke-width="0.8"/>
<rect x="249.55" y="341.64" width="3.5" height="21.26" fill="#fff" stroke="#a6022c" stroke-width="0.85"/>
<line x1="257.65" y1="333.87" x2="257.65" y2="334.97" stroke="#a6022c" stroke-width="0.8"/>
<line x1="256.55" y1="333.87" x2="258.75" y2="333.87" stroke="#a6022c" stroke-width="0.8"/>
<rect x="255.85" y="334.97" width="3.6" height="27.93" fill="#a6022c" stroke="none" stroke-width="1"/>
<line x1="277.0" y1="362.9" x2="277.0" y2="365.09999999999997" stroke="#222" stroke-width="0.8"/>
<text x="277.0" y="375.4" font-size="6.6" text-anchor="middle" fill="#222" stroke="#222" stroke-width="0.1">M</text>
<line x1="267.5" y1="304.1" x2="267.5" y2="307.77" stroke="#2c4a80" stroke-width="0.8"/>
<line x1="266.4" y1="304.1" x2="268.6" y2="304.1" stroke="#2c4a80" stroke-width="0.8"/>
<rect x="265.75" y="308.19" width="3.5" height="54.7" fill="#fff" stroke="#2c4a80" stroke-width="0.85"/>
<line x1="273.8" y1="330.19" x2="273.8" y2="337.17" stroke="#2c4a80" stroke-width="0.8"/>
<line x1="272.7" y1="330.19" x2="274.9" y2="330.19" stroke="#2c4a80" stroke-width="0.8"/>
<rect x="272.0" y="337.17" width="3.6" height="25.73" fill="#2c4a80" stroke="none" stroke-width="1"/>
<line x1="280.0" y1="334.23" x2="280.0" y2="337.91" stroke="#a6022c" stroke-width="0.8"/>
<line x1="278.9" y1="334.23" x2="281.1" y2="334.23" stroke="#a6022c" stroke-width="0.8"/>
<rect x="278.25" y="338.33" width="3.5" height="24.57" fill="#fff" stroke="#a6022c" stroke-width="0.85"/>
<line x1="286.35" y1="322.84" x2="286.35" y2="325.05" stroke="#a6022c" stroke-width="0.8"/>
<line x1="285.25" y1="322.84" x2="287.45" y2="322.84" stroke="#a6022c" stroke-width="0.8"/>
<rect x="284.55" y="325.05" width="3.6" height="37.85" fill="#a6022c" stroke="none" stroke-width="1"/>
<line x1="305.8" y1="362.9" x2="305.8" y2="365.09999999999997" stroke="#222" stroke-width="0.8"/>
<text x="305.8" y="375.4" font-size="6.6" text-anchor="middle" fill="#222" stroke="#222" stroke-width="0.1">GM</text>
<line x1="296.3" y1="307.77" x2="296.3" y2="328.72" stroke="#2c4a80" stroke-width="0.8"/>
<line x1="295.2" y1="307.77" x2="297.4" y2="307.77" stroke="#2c4a80" stroke-width="0.8"/>
<rect x="294.55" y="329.14" width="3.5" height="33.76" fill="#fff" stroke="#2c4a80" stroke-width="0.85"/>
<line x1="302.6" y1="320.64" x2="302.6" y2="327.25" stroke="#2c4a80" stroke-width="0.8"/>
<line x1="301.5" y1="320.64" x2="303.7" y2="320.64" stroke="#2c4a80" stroke-width="0.8"/>
<rect x="300.8" y="327.25" width="3.6" height="35.65" fill="#2c4a80" stroke="none" stroke-width="1"/>
<line x1="308.8" y1="340.48" x2="308.8" y2="341.22" stroke="#a6022c" stroke-width="0.8"/>
<line x1="307.7" y1="340.48" x2="309.9" y2="340.48" stroke="#a6022c" stroke-width="0.8"/>
<rect x="307.05" y="341.64" width="3.5" height="21.26" fill="#fff" stroke="#a6022c" stroke-width="0.85"/>
<line x1="315.15" y1="333.5" x2="315.15" y2="334.23" stroke="#a6022c" stroke-width="0.8"/>
<line x1="314.05" y1="333.5" x2="316.25" y2="333.5" stroke="#a6022c" stroke-width="0.8"/>
<rect x="313.35" y="334.23" width="3.6" height="28.67" fill="#a6022c" stroke="none" stroke-width="1"/>
<line x1="334.5" y1="362.9" x2="334.5" y2="365.09999999999997" stroke="#222" stroke-width="0.8"/>
<text x="334.5" y="375.4" font-size="6.6" text-anchor="middle" fill="#222" stroke="#222" stroke-width="0.1">GEMM</text>
<line x1="325.0" y1="337.54" x2="325.0" y2="343.79" stroke="#2c4a80" stroke-width="0.8"/>
<line x1="323.9" y1="337.54" x2="326.1" y2="337.54" stroke="#2c4a80" stroke-width="0.8"/>
<rect x="323.25" y="344.21" width="3.5" height="18.69" fill="#fff" stroke="#2c4a80" stroke-width="0.85"/>
<line x1="331.3" y1="344.89" x2="331.3" y2="346.36" stroke="#2c4a80" stroke-width="0.8"/>
<line x1="330.2" y1="344.89" x2="332.4" y2="344.89" stroke="#2c4a80" stroke-width="0.8"/>
<rect x="329.5" y="346.36" width="3.6" height="16.54" fill="#2c4a80" stroke="none" stroke-width="1"/>
<line x1="337.5" y1="348.57" x2="337.5" y2="352.24" stroke="#a6022c" stroke-width="0.8"/>
<line x1="336.4" y1="348.57" x2="338.6" y2="348.57" stroke="#a6022c" stroke-width="0.8"/>
<rect x="335.75" y="352.66" width="3.5" height="10.24" fill="#fff" stroke="#a6022c" stroke-width="0.85"/>
<line x1="343.85" y1="339.75" x2="343.85" y2="344.89" stroke="#a6022c" stroke-width="0.8"/>
<line x1="342.75" y1="339.75" x2="344.95" y2="339.75" stroke="#a6022c" stroke-width="0.8"/>
<rect x="342.05" y="344.89" width="3.6" height="18.01" fill="#a6022c" stroke="none" stroke-width="1"/>
<rect x="328.6" y="288.3" width="8.8" height="3.8" fill="#fff" stroke="#2c4a80" stroke-width="0.95"/>
<rect x="328.6" y="297.3" width="8.8" height="3.8" fill="#2c4a80" stroke="#2c4a80" stroke-width="0.95"/>
<rect x="328.6" y="306.4" width="8.8" height="3.8" fill="#fff" stroke="#a6022c" stroke-width="0.95"/>
<rect x="328.6" y="315.9" width="8.8" height="3.8" fill="#a6022c" stroke="#a6022c" stroke-width="0.95"/>
<text x="340.0" y="292.4" font-size="5.5" fill="#222" stroke="#222" stroke-width="0.1">CTL</text>
<text x="340.0" y="301.4" font-size="5.5" fill="#222" stroke="#222" stroke-width="0.1">CTL + NAC</text>
<text x="340.0" y="310.5" font-size="5.5" fill="#222" stroke="#222" stroke-width="0.1">cKO</text>
<text x="340.0" y="320.0" font-size="5.5" fill="#222" stroke="#222" stroke-width="0.1">cKO + NAC</text>
<text transform="translate(215.9 325.0) rotate(-90)" font-size="7.2" text-anchor="middle" fill="#111" stroke="#111" stroke-width="0.1" textLength="68.5" lengthAdjust="spacingAndGlyphs">Colonies per 10<tspan font-size="4.4" dy="-2.9">4</tspan><tspan dy="2.9"> BM cells</tspan></text>
<text x="386.3" y="271.4" font-size="11.7" font-weight="bold" fill="#000">G</text>
<text x="444.0" y="281.0" font-size="8.4" text-anchor="middle" fill="#111" stroke="#111" stroke-width="0.1">CFC2</text>
<line x1="417.9" y1="286.5" x2="417.9" y2="363.3" stroke="#222" stroke-width="1"/>
<line x1="416.9" y1="363.3" x2="469.2" y2="363.3" stroke="#222" stroke-width="1"/>
<line x1="415.4" y1="363.3" x2="417.9" y2="363.3" stroke="#222" stroke-width="0.7"/>
<text x="411.9" y="365.6" font-size="6.8" text-anchor="end" fill="#111" stroke="#111" stroke-width="0.1">0</text>
<line x1="415.4" y1="338.63" x2="417.9" y2="338.63" stroke="#222" stroke-width="0.7"/>
<text x="411.9" y="340.93" font-size="6.8" text-anchor="end" fill="#111" stroke="#111" stroke-width="0.1">100</text>
<line x1="415.4" y1="313.96" x2="417.9" y2="313.96" stroke="#222" stroke-width="0.7"/>
<text x="411.9" y="316.26" font-size="6.8" text-anchor="end" fill="#111" stroke="#111" stroke-width="0.1">200</text>
<line x1="415.4" y1="289.29" x2="417.9" y2="289.29" stroke="#222" stroke-width="0.7"/>
<text x="411.9" y="291.59" font-size="6.8" text-anchor="end" fill="#111" stroke="#111" stroke-width="0.1">300</text>
<line x1="426.1" y1="363.3" x2="426.1" y2="365.5" stroke="#222" stroke-width="0.8"/>
<line x1="426.1" y1="320.87" x2="426.1" y2="323.33" stroke="#2c4a80" stroke-width="0.9"/>
<line x1="423.90000000000003" y1="320.87" x2="428.3" y2="320.87" stroke="#2c4a80" stroke-width="0.9"/>
<rect x="422.9" y="323.73" width="6.4" height="39.57" fill="#fff" stroke="#2c4a80" stroke-width="0.9"/>
<line x1="438.15" y1="363.3" x2="438.15" y2="365.5" stroke="#222" stroke-width="0.8"/>
<line x1="438.15" y1="306.07" x2="438.15" y2="317.17" stroke="#2c4a80" stroke-width="0.9"/>
<line x1="435.95" y1="306.07" x2="440.34999999999997" y2="306.07" stroke="#2c4a80" stroke-width="0.9"/>
<rect x="434.95" y="317.57" width="6.4" height="45.73" fill="#2c4a80" stroke="#2c4a80" stroke-width="0.9"/>
<line x1="449.6" y1="363.3" x2="449.6" y2="365.5" stroke="#222" stroke-width="0.8"/>
<path d="M445.80,363.3 C447.10,361.50 452.10,361.50 453.40,363.3 Z" fill="#a6022c"/>
<line x1="461.5" y1="363.3" x2="461.5" y2="365.5" stroke="#222" stroke-width="0.8"/>
<line x1="461.5" y1="301.62" x2="461.5" y2="305.57" stroke="#a6022c" stroke-width="0.9"/>
<line x1="459.3" y1="301.62" x2="463.7" y2="301.62" stroke="#a6022c" stroke-width="0.9"/>
<rect x="458.3" y="305.97" width="6.4" height="57.33" fill="#a6022c" stroke="#a6022c" stroke-width="0.9"/>
<line x1="426.2" y1="303.9" x2="448.7" y2="303.9" stroke="#777" stroke-width="1.3"/>
<line x1="450.0" y1="297.8" x2="461.9" y2="297.8" stroke="#777" stroke-width="1.3"/>
<text x="438.4" y="303.0" font-size="4.8" text-anchor="middle" fill="#333" stroke="#333" stroke-width="0.1">*</text>
<text x="455.9" y="297.6" font-size="4.8" text-anchor="middle" fill="#333" stroke="#333" stroke-width="0.1">*</text>
<text x="429.9" y="373.8" font-size="6.9" text-anchor="end" transform="rotate(-45 429.9 373.8)" fill="#111" stroke="#111" stroke-width="0.1">CTL</text>
<text x="441.7" y="373.8" font-size="6.9" text-anchor="end" transform="rotate(-45 441.7 373.8)" fill="#111" stroke="#111" stroke-width="0.1">CTL+NAC</text>
<text x="453.3" y="373.8" font-size="6.9" text-anchor="end" transform="rotate(-45 453.3 373.8)" fill="#111" stroke="#111" stroke-width="0.1">cKO</text>
<text x="465.1" y="373.8" font-size="6.9" text-anchor="end" transform="rotate(-45 465.1 373.8)" fill="#111" stroke="#111" stroke-width="0.1">cKO+NAC</text>
<text transform="translate(394.6 324.9) rotate(-90)" font-size="7.2" text-anchor="middle" fill="#111" stroke="#111" stroke-width="0.1" textLength="68.3" lengthAdjust="spacingAndGlyphs">Colonies per 10<tspan font-size="4.4" dy="-2.9">4</tspan><tspan dy="2.9"> BM cells</tspan></text>
<text x="7.5" y="410.8" font-size="11.7" font-weight="bold" fill="#000">H</text>
<text x="39.7" y="435.6" font-size="6.3" text-anchor="middle" fill="#222" stroke="#222" stroke-width="0.1">NAC</text>
<line x1="21" y1="440.3" x2="58.2" y2="440.3" stroke="#222" stroke-width="1.0"/>
<g transform="translate(12.2 125.1) scale(1.0)" fill="none" stroke="#111" stroke-width="0.95" stroke-linecap="round" stroke-linejoin="round">
<path d="M31.00,322.50 C30.60,322.27 29.73,321.45 28.60,321.10 C27.47,320.75 25.73,320.30 24.20,320.40 C22.67,320.50 20.83,320.78 19.40,321.70 C17.97,322.62 16.40,324.45 15.60,325.90 C14.80,327.35 14.60,329.12 14.60,330.40 C14.60,331.68 14.95,332.67 15.60,333.60 C16.25,334.53 17.38,335.40 18.50,336.00 C19.62,336.60 20.55,336.88 22.30,337.20 C24.05,337.52 26.60,337.83 29.00,337.90 C31.40,337.97 34.28,337.77 36.70,337.60 C39.12,337.43 41.97,337.17 43.50,336.90 C45.03,336.63 45.40,336.40 45.90,336.00 C46.40,335.60 46.58,335.07 46.50,334.50 C46.42,333.93 46.23,333.40 45.40,332.60 C44.57,331.80 42.70,330.58 41.50,329.70 C40.30,328.82 38.75,327.70 38.20,327.30"/>
<path d="M31.00,322.50 C31.23,322.30 31.77,321.55 32.40,321.30 C33.03,321.05 34.00,320.88 34.80,321.00 C35.60,321.12 36.63,321.43 37.20,322.00 C37.77,322.57 38.03,323.52 38.20,324.40 C38.37,325.28 38.20,326.82 38.20,327.30"/>
<path d="M31.00,323.20 C31.03,323.72 30.97,325.45 31.20,326.30 C31.43,327.15 31.97,327.82 32.40,328.30 C32.83,328.78 33.57,329.05 33.80,329.20"/>
<path d="M14.60,330.40 C14.28,330.20 13.50,329.40 12.70,329.20 C11.90,329.00 10.63,328.95 9.80,329.20 C8.97,329.45 8.10,330.05 7.70,330.70 C7.30,331.35 7.13,332.30 7.40,333.10 C7.67,333.90 8.10,334.70 9.30,335.50 C10.50,336.30 12.60,337.02 14.60,337.90 C16.60,338.78 20.18,340.32 21.30,340.80"/>
<circle cx="37.3" cy="330.6" r="1.4" fill="#111" stroke="none"/>
</g>
<rect x="29.3" y="473.6" width="5.1" height="4.8" fill="#2c4a80" stroke="none" stroke-width="1"/>
<rect x="29.3" y="484.2" width="5.1" height="4.8" fill="#a6022c" stroke="none" stroke-width="1"/>
<text x="37.6" y="478.4" font-size="6.5" fill="#222" stroke="#222" stroke-width="0.1">CTL</text>
<text x="37.6" y="488.9" font-size="6.5" fill="#222" stroke="#222" stroke-width="0.1">cKO</text>
<text x="124.2" y="435.6" font-size="6.4" text-anchor="middle" fill="#222" stroke="#222" stroke-width="0.1">NAC in drinking water</text>
<text x="124.4" y="443.4" font-size="6.4" text-anchor="middle" fill="#222" stroke="#222" stroke-width="0.1">(1mg/ml)</text>
<text x="74.6" y="451.1" font-size="6.4" fill="#222" stroke="#222" stroke-width="0.1">Day</text>
<text x="160.0" y="451.1" font-size="6.4" fill="#222" stroke="#222" stroke-width="0.1">Analysis</text>
<line x1="88" y1="447.4" x2="153.5" y2="447.4" stroke="#111" stroke-width="0.9"/>
<path d="M157.2,447.4 L152.6,445.3 L153.8,447.4 L152.6,449.5 Z" fill="#111"/>
<line x1="91.5" y1="447.4" x2="91.5" y2="450.0" stroke="#111" stroke-width="0.7"/>
<line x1="97.87" y1="447.4" x2="97.87" y2="450.0" stroke="#111" stroke-width="0.7"/>
<line x1="104.24" y1="447.4" x2="104.24" y2="450.0" stroke="#111" stroke-width="0.7"/>
<line x1="110.61" y1="447.4" x2="110.61" y2="450.0" stroke="#111" stroke-width="0.7"/>
<line x1="116.98" y1="447.4" x2="116.98" y2="450.0" stroke="#111" stroke-width="0.7"/>
<line x1="123.35" y1="447.4" x2="123.35" y2="450.0" stroke="#111" stroke-width="0.7"/>
<line x1="129.72" y1="447.4" x2="129.72" y2="450.0" stroke="#111" stroke-width="0.7"/>
<line x1="136.09" y1="447.4" x2="136.09" y2="450.0" stroke="#111" stroke-width="0.7"/>
<line x1="142.46" y1="447.4" x2="142.46" y2="450.0" stroke="#111" stroke-width="0.7"/>
<line x1="148.83" y1="447.4" x2="148.83" y2="450.0" stroke="#111" stroke-width="0.7"/>
<text x="91.5" y="460.1" font-size="6.1" text-anchor="middle" fill="#222" stroke="#222" stroke-width="0.1">1</text>
<text x="97.87" y="460.1" font-size="6.1" text-anchor="middle" fill="#222" stroke="#222" stroke-width="0.1">2</text>
<text x="104.24" y="460.1" font-size="6.1" text-anchor="middle" fill="#222" stroke="#222" stroke-width="0.1">3</text>
<text x="110.61" y="460.1" font-size="6.1" text-anchor="middle" fill="#222" stroke="#222" stroke-width="0.1">4</text>
<text x="116.98" y="460.1" font-size="6.1" text-anchor="middle" fill="#222" stroke="#222" stroke-width="0.1">5</text>
<text x="123.35" y="460.1" font-size="6.1" text-anchor="middle" fill="#222" stroke="#222" stroke-width="0.1">6</text>
<text x="129.72" y="460.1" font-size="6.1" text-anchor="middle" fill="#222" stroke="#222" stroke-width="0.1">7</text>
<text x="136.09" y="460.1" font-size="6.1" text-anchor="middle" fill="#222" stroke="#222" stroke-width="0.1">8</text>
<text x="142.46" y="460.1" font-size="6.1" text-anchor="middle" fill="#222" stroke="#222" stroke-width="0.1">9</text>
<text x="149.6" y="460.1" font-size="6.1" text-anchor="middle" fill="#222" stroke="#222" stroke-width="0.1">10</text>
<line x1="91.5" y1="466.5" x2="91.5" y2="472.4" stroke="#111" stroke-width="0.8"/>
<path d="M91.50,465.2 L90.20,468.0 L92.80,468.0 Z" fill="#111"/>
<line x1="97.87" y1="466.5" x2="97.87" y2="472.4" stroke="#111" stroke-width="0.8"/>
<path d="M97.87,465.2 L96.57,468.0 L99.17,468.0 Z" fill="#111"/>
<line x1="104.24" y1="466.5" x2="104.24" y2="472.4" stroke="#111" stroke-width="0.8"/>
<path d="M104.24,465.2 L102.94,468.0 L105.54,468.0 Z" fill="#111"/>
<line x1="110.61" y1="466.5" x2="110.61" y2="472.4" stroke="#111" stroke-width="0.8"/>
<path d="M110.61,465.2 L109.31,468.0 L111.91,468.0 Z" fill="#111"/>
<line x1="116.98" y1="466.5" x2="116.98" y2="472.4" stroke="#111" stroke-width="0.8"/>
<path d="M116.98,465.2 L115.68,468.0 L118.28,468.0 Z" fill="#111"/>
<line x1="123.35" y1="466.5" x2="123.35" y2="472.4" stroke="#111" stroke-width="0.8"/>
<path d="M123.35,465.2 L122.05,468.0 L124.65,468.0 Z" fill="#111"/>
<line x1="129.72" y1="466.5" x2="129.72" y2="472.4" stroke="#111" stroke-width="0.8"/>
<path d="M129.72,465.2 L128.42,468.0 L131.02,468.0 Z" fill="#111"/>
<line x1="136.09" y1="466.5" x2="136.09" y2="472.4" stroke="#111" stroke-width="0.8"/>
<path d="M136.09,465.2 L134.79,468.0 L137.39,468.0 Z" fill="#111"/>
<line x1="142.46" y1="466.5" x2="142.46" y2="472.4" stroke="#111" stroke-width="0.8"/>
<path d="M142.46,465.2 L141.16,468.0 L143.76,468.0 Z" fill="#111"/>
<text x="117.1" y="480.4" font-size="6.5" text-anchor="middle" fill="#222" stroke="#222" stroke-width="0.1">NAC injection</text>
<text x="116.7" y="489.3" font-size="6.5" text-anchor="middle" fill="#222" stroke="#222" stroke-width="0.1">(100 mg/kg, i.p.)</text>
<text x="203.0" y="411.3" font-size="11.7" font-weight="bold" fill="#000">I</text>
<text x="249.2" y="421.2" font-size="9.0" text-anchor="middle" fill="#111" stroke="#111" stroke-width="0.1">HSC</text>
<line x1="229.4" y1="426.7" x2="229.4" y2="507.0" stroke="#222" stroke-width="1"/>
<line x1="227.9" y1="507.0" x2="268.2" y2="507.0" stroke="#222" stroke-width="1"/>
<line x1="226.9" y1="507.0" x2="229.4" y2="507.0" stroke="#222" stroke-width="0.7"/>
<text x="223.0" y="509.3" font-size="6.7" text-anchor="end" fill="#111" stroke="#111" stroke-width="0.1">0</text>
<line x1="226.9" y1="491.4" x2="229.4" y2="491.4" stroke="#222" stroke-width="0.7"/>
<text x="223.0" y="493.7" font-size="6.7" text-anchor="end" fill="#111" stroke="#111" stroke-width="0.1">5</text>
<line x1="226.9" y1="475.8" x2="229.4" y2="475.8" stroke="#222" stroke-width="0.7"/>
<text x="223.0" y="478.1" font-size="6.7" text-anchor="end" fill="#111" stroke="#111" stroke-width="0.1">10</text>
<line x1="226.9" y1="460.2" x2="229.4" y2="460.2" stroke="#222" stroke-width="0.7"/>
<text x="223.0" y="462.5" font-size="6.7" text-anchor="end" fill="#111" stroke="#111" stroke-width="0.1">15</text>
<line x1="226.9" y1="444.6" x2="229.4" y2="444.6" stroke="#222" stroke-width="0.7"/>
<text x="223.0" y="446.9" font-size="6.7" text-anchor="end" fill="#111" stroke="#111" stroke-width="0.1">20</text>
<line x1="226.9" y1="429.0" x2="229.4" y2="429.0" stroke="#222" stroke-width="0.7"/>
<text x="223.0" y="431.3" font-size="6.7" text-anchor="end" fill="#111" stroke="#111" stroke-width="0.1">25</text>
<line x1="241.0" y1="507.0" x2="241.0" y2="509.2" stroke="#222" stroke-width="0.8"/>
<line x1="241.0" y1="445.54" x2="241.0" y2="446.47" stroke="#2c4a80" stroke-width="0.9"/>
<line x1="238.4" y1="445.54" x2="243.6" y2="445.54" stroke="#2c4a80" stroke-width="0.9"/>
<rect x="235.15" y="446.82" width="11.7" height="60.18" fill="#2c4a80" stroke="#1f3b72" stroke-width="0.7"/>
<line x1="258.4" y1="507.0" x2="258.4" y2="509.2" stroke="#222" stroke-width="0.8"/>
<line x1="258.4" y1="446.78" x2="258.4" y2="453.96" stroke="#a6022c" stroke-width="0.9"/>
<line x1="255.79999999999998" y1="446.78" x2="261.0" y2="446.78" stroke="#a6022c" stroke-width="0.9"/>
<rect x="252.55" y="454.31" width="11.7" height="52.69" fill="#a6022c" stroke="#9a0028" stroke-width="0.7"/>
<line x1="240.9" y1="441.4" x2="258.3" y2="441.4" stroke="#444" stroke-width="0.9"/>
<text x="249.6" y="437.0" font-size="5.4" text-anchor="middle" fill="#222" stroke="#222" stroke-width="0.1">NS</text>
<text x="244.6" y="517.4" font-size="6.9" text-anchor="end" transform="rotate(-45 244.6 517.4)" fill="#111" stroke="#111" stroke-width="0.1">CTL+NAC</text>
<text x="262.0" y="517.4" font-size="6.9" text-anchor="end" transform="rotate(-45 262.0 517.4)" fill="#111" stroke="#111" stroke-width="0.1">cKO+NAC</text>
<text transform="translate(209.9 466.8) rotate(-90)" font-size="7.3" text-anchor="middle" fill="#111" stroke="#111" stroke-width="0.1" textLength="73.5" lengthAdjust="spacingAndGlyphs">Total numbers in BM (x10<tspan font-size="4.4" dy="-2.9">3</tspan><tspan dy="2.9">)</tspan></text>
<text x="288.8" y="411.3" font-size="11.7" font-weight="bold" fill="#000">J</text>
<text x="332.2" y="422.4" font-size="8.5" text-anchor="middle" fill="#111" stroke="#111" stroke-width="0.1">CLP</text>
<line x1="311.6" y1="428" x2="311.6" y2="507.0" stroke="#222" stroke-width="1"/>
<line x1="310.1" y1="507.0" x2="351.7" y2="507.0" stroke="#222" stroke-width="1"/>
<line x1="309.1" y1="507.0" x2="311.6" y2="507.0" stroke="#222" stroke-width="0.7"/>
<text x="305.8" y="509.3" font-size="6.7" text-anchor="end" fill="#111" stroke="#111" stroke-width="0.1">0</text>
<line x1="309.1" y1="481.57" x2="311.6" y2="481.57" stroke="#222" stroke-width="0.7"/>
<text x="305.8" y="483.87" font-size="6.7" text-anchor="end" fill="#111" stroke="#111" stroke-width="0.1">1</text>
<line x1="309.1" y1="456.14" x2="311.6" y2="456.14" stroke="#222" stroke-width="0.7"/>
<text x="305.8" y="458.44" font-size="6.7" text-anchor="end" fill="#111" stroke="#111" stroke-width="0.1">2</text>
<line x1="309.1" y1="430.71" x2="311.6" y2="430.71" stroke="#222" stroke-width="0.7"/>
<text x="305.8" y="433.01" font-size="6.7" text-anchor="end" fill="#111" stroke="#111" stroke-width="0.1">3</text>
<line x1="323.5" y1="507.0" x2="323.5" y2="509.2" stroke="#222" stroke-width="0.8"/>
<line x1="323.5" y1="470.13" x2="323.5" y2="472.42" stroke="#2c4a80" stroke-width="0.9"/>
<line x1="320.9" y1="470.13" x2="326.1" y2="470.13" stroke="#2c4a80" stroke-width="0.9"/>
<rect x="317.85" y="472.77" width="11.3" height="34.23" fill="#2c4a80" stroke="#1f3b72" stroke-width="0.7"/>
<line x1="341.1" y1="507.0" x2="341.1" y2="509.2" stroke="#222" stroke-width="0.8"/>
<line x1="341.1" y1="436.3" x2="341.1" y2="442.15" stroke="#a6022c" stroke-width="0.9"/>
<line x1="338.5" y1="436.3" x2="343.70000000000005" y2="436.3" stroke="#a6022c" stroke-width="0.9"/>
<rect x="335.45" y="442.5" width="11.3" height="64.5" fill="#a6022c" stroke="#9a0028" stroke-width="0.7"/>
<line x1="323.6" y1="434.2" x2="341.5" y2="434.2" stroke="#444" stroke-width="0.9"/>
<text x="332.4" y="433.2" font-size="4.5" text-anchor="middle" fill="#333" stroke="#333" stroke-width="0.1">*</text>
<text x="327.1" y="517.4" font-size="6.9" text-anchor="end" transform="rotate(-45 327.1 517.4)" fill="#111" stroke="#111" stroke-width="0.1">CTL+NAC</text>
<text x="344.7" y="517.4" font-size="6.9" text-anchor="end" transform="rotate(-45 344.7 517.4)" fill="#111" stroke="#111" stroke-width="0.1">cKO+NAC</text>
<text transform="translate(296.6 467.6) rotate(-90)" font-size="7.3" text-anchor="middle" fill="#111" stroke="#111" stroke-width="0.1" textLength="73.5" lengthAdjust="spacingAndGlyphs">Total numbers in BM (x10<tspan font-size="4.4" dy="-2.9">5</tspan><tspan dy="2.9">)</tspan></text>
<rect x="0.5" y="0.5" width="519" height="545" fill="none" stroke="#000" stroke-width="1"/>
</svg>
</body></html>
